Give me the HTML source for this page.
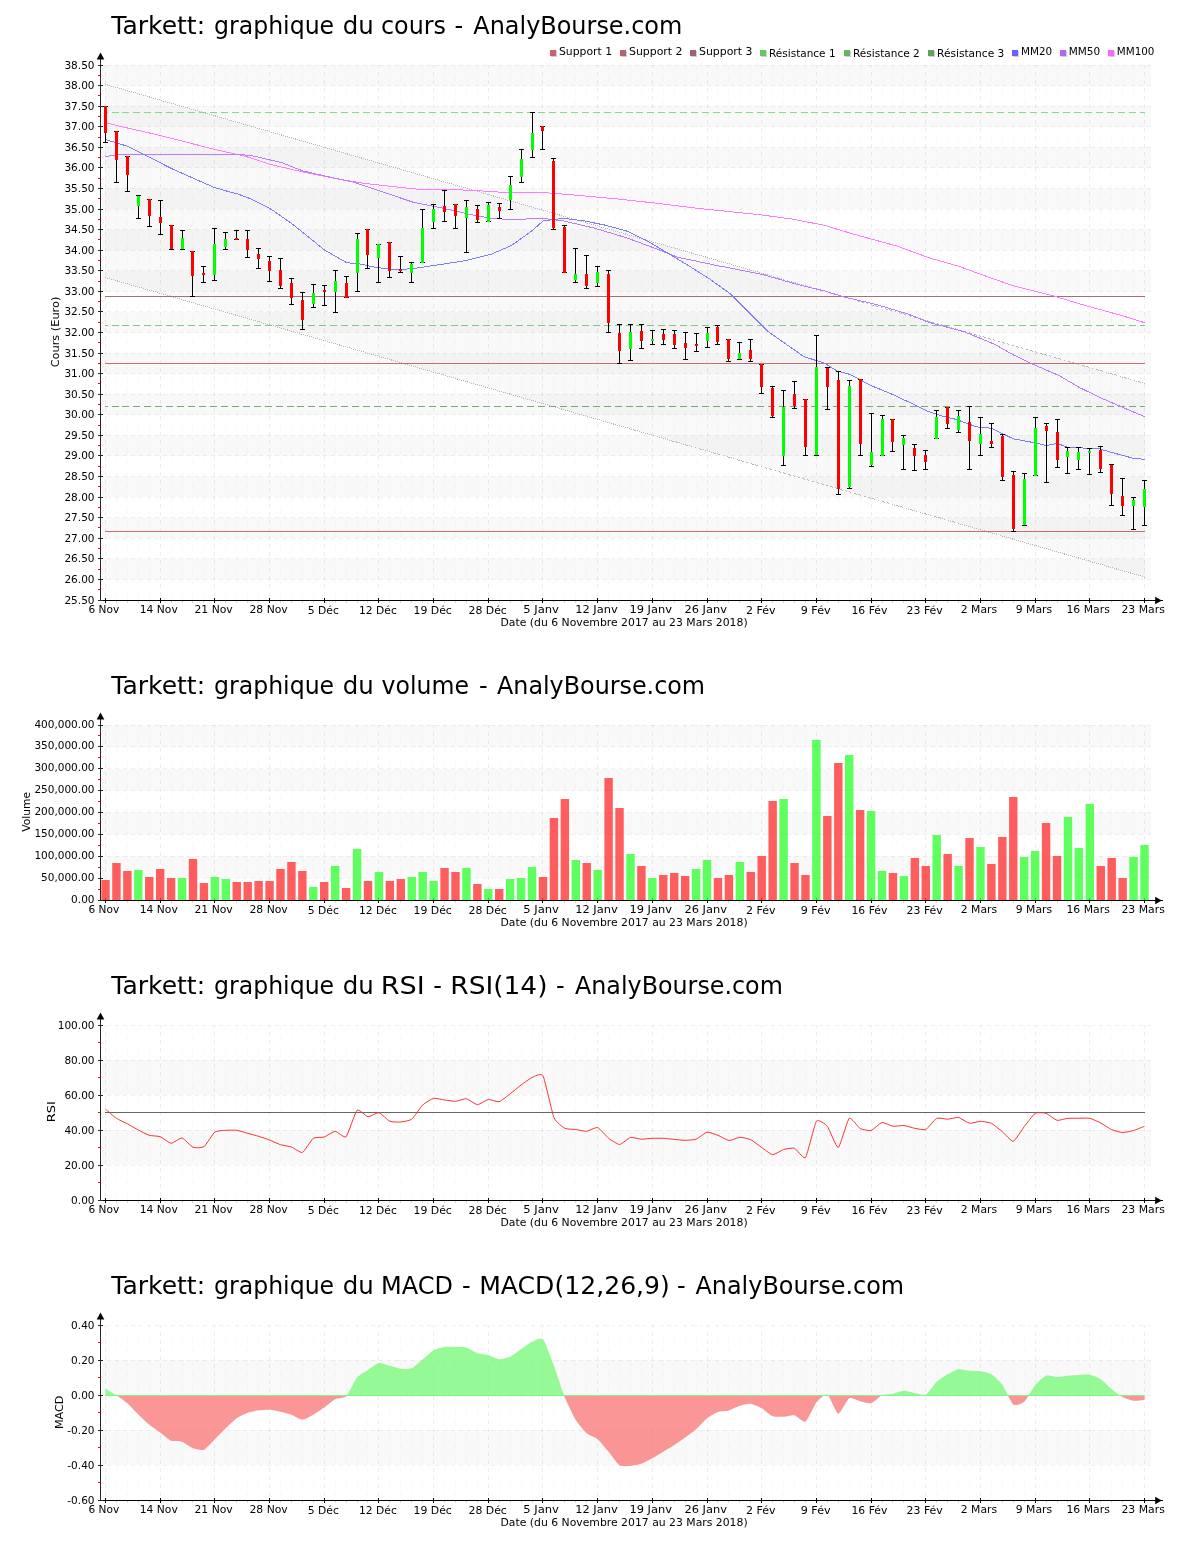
<!DOCTYPE html>
<html lang="fr"><head><meta charset="utf-8"><title>Tarkett - AnalyBourse.com</title>
<style>html,body{margin:0;padding:0;background:#fff}svg{display:block}text{white-space:pre}</style>
</head><body>
<svg width="1200" height="1550" viewBox="0 0 1200 1550" role="img" aria-label="Tarkett - graphiques AnalyBourse.com">
<rect width="1200" height="1550" fill="#fff"/>
<rect x="102" y="558.85" width="1049" height="20.58" fill="#f9f9f9"/>
<rect x="102" y="517.69" width="1049" height="20.58" fill="#f9f9f9"/>
<rect x="102" y="476.54" width="1049" height="20.58" fill="#f9f9f9"/>
<rect x="102" y="435.38" width="1049" height="20.58" fill="#f9f9f9"/>
<rect x="102" y="394.23" width="1049" height="20.58" fill="#f9f9f9"/>
<rect x="102" y="353.08" width="1049" height="20.58" fill="#f9f9f9"/>
<rect x="102" y="311.92" width="1049" height="20.58" fill="#f9f9f9"/>
<rect x="102" y="270.77" width="1049" height="20.58" fill="#f9f9f9"/>
<rect x="102" y="229.62" width="1049" height="20.58" fill="#f9f9f9"/>
<rect x="102" y="188.46" width="1049" height="20.58" fill="#f9f9f9"/>
<rect x="102" y="147.31" width="1049" height="20.58" fill="#f9f9f9"/>
<rect x="102" y="106.15" width="1049" height="20.58" fill="#f9f9f9"/>
<rect x="102" y="65.00" width="1049" height="20.58" fill="#f9f9f9"/>
<polygon points="105,84.2 1145,383.5 1145,577.2 105,277.4" fill="#000" fill-opacity="0.022"/>
<g stroke="#000" stroke-opacity="0.022" stroke-width="1" stroke-dasharray="6 6" shape-rendering="crispEdges">
<line x1="116.5" y1="65" x2="116.5" y2="600" stroke-dashoffset="1"/>
<line x1="127.5" y1="65" x2="127.5" y2="600" stroke-dashoffset="1"/>
<line x1="138.5" y1="65" x2="138.5" y2="600" stroke-dashoffset="1"/>
<line x1="149.5" y1="65" x2="149.5" y2="600" stroke-dashoffset="1"/>
<line x1="171.5" y1="65" x2="171.5" y2="600" stroke-dashoffset="1"/>
<line x1="182.5" y1="65" x2="182.5" y2="600" stroke-dashoffset="1"/>
<line x1="192.5" y1="65" x2="192.5" y2="600" stroke-dashoffset="1"/>
<line x1="203.5" y1="65" x2="203.5" y2="600" stroke-dashoffset="1"/>
<line x1="225.5" y1="65" x2="225.5" y2="600" stroke-dashoffset="1"/>
<line x1="236.5" y1="65" x2="236.5" y2="600" stroke-dashoffset="1"/>
<line x1="247.5" y1="65" x2="247.5" y2="600" stroke-dashoffset="1"/>
<line x1="258.5" y1="65" x2="258.5" y2="600" stroke-dashoffset="1"/>
<line x1="280.5" y1="65" x2="280.5" y2="600" stroke-dashoffset="1"/>
<line x1="291.5" y1="65" x2="291.5" y2="600" stroke-dashoffset="1"/>
<line x1="302.5" y1="65" x2="302.5" y2="600" stroke-dashoffset="1"/>
<line x1="313.5" y1="65" x2="313.5" y2="600" stroke-dashoffset="1"/>
<line x1="335.5" y1="65" x2="335.5" y2="600" stroke-dashoffset="1"/>
<line x1="346.5" y1="65" x2="346.5" y2="600" stroke-dashoffset="1"/>
<line x1="357.5" y1="65" x2="357.5" y2="600" stroke-dashoffset="1"/>
<line x1="367.5" y1="65" x2="367.5" y2="600" stroke-dashoffset="1"/>
<line x1="389.5" y1="65" x2="389.5" y2="600" stroke-dashoffset="1"/>
<line x1="400.5" y1="65" x2="400.5" y2="600" stroke-dashoffset="1"/>
<line x1="411.5" y1="65" x2="411.5" y2="600" stroke-dashoffset="1"/>
<line x1="422.5" y1="65" x2="422.5" y2="600" stroke-dashoffset="1"/>
<line x1="444.5" y1="65" x2="444.5" y2="600" stroke-dashoffset="1"/>
<line x1="455.5" y1="65" x2="455.5" y2="600" stroke-dashoffset="1"/>
<line x1="466.5" y1="65" x2="466.5" y2="600" stroke-dashoffset="1"/>
<line x1="477.5" y1="65" x2="477.5" y2="600" stroke-dashoffset="1"/>
<line x1="499.5" y1="65" x2="499.5" y2="600" stroke-dashoffset="1"/>
<line x1="510.5" y1="65" x2="510.5" y2="600" stroke-dashoffset="1"/>
<line x1="521.5" y1="65" x2="521.5" y2="600" stroke-dashoffset="1"/>
<line x1="532.5" y1="65" x2="532.5" y2="600" stroke-dashoffset="1"/>
<line x1="553.5" y1="65" x2="553.5" y2="600" stroke-dashoffset="1"/>
<line x1="564.5" y1="65" x2="564.5" y2="600" stroke-dashoffset="1"/>
<line x1="575.5" y1="65" x2="575.5" y2="600" stroke-dashoffset="1"/>
<line x1="586.5" y1="65" x2="586.5" y2="600" stroke-dashoffset="1"/>
<line x1="608.5" y1="65" x2="608.5" y2="600" stroke-dashoffset="1"/>
<line x1="619.5" y1="65" x2="619.5" y2="600" stroke-dashoffset="1"/>
<line x1="630.5" y1="65" x2="630.5" y2="600" stroke-dashoffset="1"/>
<line x1="641.5" y1="65" x2="641.5" y2="600" stroke-dashoffset="1"/>
<line x1="663.5" y1="65" x2="663.5" y2="600" stroke-dashoffset="1"/>
<line x1="674.5" y1="65" x2="674.5" y2="600" stroke-dashoffset="1"/>
<line x1="685.5" y1="65" x2="685.5" y2="600" stroke-dashoffset="1"/>
<line x1="696.5" y1="65" x2="696.5" y2="600" stroke-dashoffset="1"/>
<line x1="717.5" y1="65" x2="717.5" y2="600" stroke-dashoffset="1"/>
<line x1="728.5" y1="65" x2="728.5" y2="600" stroke-dashoffset="1"/>
<line x1="739.5" y1="65" x2="739.5" y2="600" stroke-dashoffset="1"/>
<line x1="750.5" y1="65" x2="750.5" y2="600" stroke-dashoffset="1"/>
<line x1="772.5" y1="65" x2="772.5" y2="600" stroke-dashoffset="1"/>
<line x1="783.5" y1="65" x2="783.5" y2="600" stroke-dashoffset="1"/>
<line x1="794.5" y1="65" x2="794.5" y2="600" stroke-dashoffset="1"/>
<line x1="805.5" y1="65" x2="805.5" y2="600" stroke-dashoffset="1"/>
<line x1="827.5" y1="65" x2="827.5" y2="600" stroke-dashoffset="1"/>
<line x1="838.5" y1="65" x2="838.5" y2="600" stroke-dashoffset="1"/>
<line x1="849.5" y1="65" x2="849.5" y2="600" stroke-dashoffset="1"/>
<line x1="860.5" y1="65" x2="860.5" y2="600" stroke-dashoffset="1"/>
<line x1="882.5" y1="65" x2="882.5" y2="600" stroke-dashoffset="1"/>
<line x1="892.5" y1="65" x2="892.5" y2="600" stroke-dashoffset="1"/>
<line x1="903.5" y1="65" x2="903.5" y2="600" stroke-dashoffset="1"/>
<line x1="914.5" y1="65" x2="914.5" y2="600" stroke-dashoffset="1"/>
<line x1="936.5" y1="65" x2="936.5" y2="600" stroke-dashoffset="1"/>
<line x1="947.5" y1="65" x2="947.5" y2="600" stroke-dashoffset="1"/>
<line x1="958.5" y1="65" x2="958.5" y2="600" stroke-dashoffset="1"/>
<line x1="969.5" y1="65" x2="969.5" y2="600" stroke-dashoffset="1"/>
<line x1="991.5" y1="65" x2="991.5" y2="600" stroke-dashoffset="1"/>
<line x1="1002.5" y1="65" x2="1002.5" y2="600" stroke-dashoffset="1"/>
<line x1="1013.5" y1="65" x2="1013.5" y2="600" stroke-dashoffset="1"/>
<line x1="1024.5" y1="65" x2="1024.5" y2="600" stroke-dashoffset="1"/>
<line x1="1046.5" y1="65" x2="1046.5" y2="600" stroke-dashoffset="1"/>
<line x1="1057.5" y1="65" x2="1057.5" y2="600" stroke-dashoffset="1"/>
<line x1="1067.5" y1="65" x2="1067.5" y2="600" stroke-dashoffset="1"/>
<line x1="1078.5" y1="65" x2="1078.5" y2="600" stroke-dashoffset="1"/>
<line x1="1100.5" y1="65" x2="1100.5" y2="600" stroke-dashoffset="1"/>
<line x1="1111.5" y1="65" x2="1111.5" y2="600" stroke-dashoffset="1"/>
<line x1="1122.5" y1="65" x2="1122.5" y2="600" stroke-dashoffset="1"/>
<line x1="1133.5" y1="65" x2="1133.5" y2="600" stroke-dashoffset="1"/>
</g>
<g stroke="#000" stroke-opacity="0.066" stroke-width="1" stroke-dasharray="4 4" shape-rendering="crispEdges">
<line x1="105.5" y1="65" x2="105.5" y2="600" stroke-dashoffset="1"/>
<line x1="160.5" y1="65" x2="160.5" y2="600" stroke-dashoffset="1"/>
<line x1="214.5" y1="65" x2="214.5" y2="600" stroke-dashoffset="1"/>
<line x1="269.5" y1="65" x2="269.5" y2="600" stroke-dashoffset="1"/>
<line x1="324.5" y1="65" x2="324.5" y2="600" stroke-dashoffset="1"/>
<line x1="378.5" y1="65" x2="378.5" y2="600" stroke-dashoffset="1"/>
<line x1="433.5" y1="65" x2="433.5" y2="600" stroke-dashoffset="1"/>
<line x1="488.5" y1="65" x2="488.5" y2="600" stroke-dashoffset="1"/>
<line x1="542.5" y1="65" x2="542.5" y2="600" stroke-dashoffset="1"/>
<line x1="597.5" y1="65" x2="597.5" y2="600" stroke-dashoffset="1"/>
<line x1="652.5" y1="65" x2="652.5" y2="600" stroke-dashoffset="1"/>
<line x1="707.5" y1="65" x2="707.5" y2="600" stroke-dashoffset="1"/>
<line x1="761.5" y1="65" x2="761.5" y2="600" stroke-dashoffset="1"/>
<line x1="816.5" y1="65" x2="816.5" y2="600" stroke-dashoffset="1"/>
<line x1="871.5" y1="65" x2="871.5" y2="600" stroke-dashoffset="1"/>
<line x1="925.5" y1="65" x2="925.5" y2="600" stroke-dashoffset="1"/>
<line x1="980.5" y1="65" x2="980.5" y2="600" stroke-dashoffset="1"/>
<line x1="1035.5" y1="65" x2="1035.5" y2="600" stroke-dashoffset="1"/>
<line x1="1089.5" y1="65" x2="1089.5" y2="600" stroke-dashoffset="1"/>
<line x1="1144.5" y1="65" x2="1144.5" y2="600" stroke-dashoffset="1"/>
</g>
<g stroke="#000" stroke-opacity="0.06" stroke-width="1" stroke-dasharray="4 4" shape-rendering="crispEdges">
<line x1="107" y1="579.5" x2="1151" y2="579.5"/>
<line x1="107" y1="558.5" x2="1151" y2="558.5"/>
<line x1="107" y1="538.5" x2="1151" y2="538.5"/>
<line x1="107" y1="517.5" x2="1151" y2="517.5"/>
<line x1="107" y1="497.5" x2="1151" y2="497.5"/>
<line x1="107" y1="476.5" x2="1151" y2="476.5"/>
<line x1="107" y1="455.5" x2="1151" y2="455.5"/>
<line x1="107" y1="435.5" x2="1151" y2="435.5"/>
<line x1="107" y1="414.5" x2="1151" y2="414.5"/>
<line x1="107" y1="394.5" x2="1151" y2="394.5"/>
<line x1="107" y1="373.5" x2="1151" y2="373.5"/>
<line x1="107" y1="353.5" x2="1151" y2="353.5"/>
<line x1="107" y1="332.5" x2="1151" y2="332.5"/>
<line x1="107" y1="311.5" x2="1151" y2="311.5"/>
<line x1="107" y1="291.5" x2="1151" y2="291.5"/>
<line x1="107" y1="270.5" x2="1151" y2="270.5"/>
<line x1="107" y1="250.5" x2="1151" y2="250.5"/>
<line x1="107" y1="229.5" x2="1151" y2="229.5"/>
<line x1="107" y1="209.5" x2="1151" y2="209.5"/>
<line x1="107" y1="188.5" x2="1151" y2="188.5"/>
<line x1="107" y1="167.5" x2="1151" y2="167.5"/>
<line x1="107" y1="147.5" x2="1151" y2="147.5"/>
<line x1="107" y1="126.5" x2="1151" y2="126.5"/>
<line x1="107" y1="106.5" x2="1151" y2="106.5"/>
<line x1="107" y1="85.5" x2="1151" y2="85.5"/>
<line x1="107" y1="65.5" x2="1151" y2="65.5"/>
</g>
<line x1="105" y1="84.2" x2="1145" y2="383.5" stroke="#b6b6b6" stroke-width="1" stroke-dasharray="1.04 1.04" shape-rendering="crispEdges"/>
<line x1="105" y1="277.4" x2="1145" y2="577.2" stroke="#b6b6b6" stroke-width="1" stroke-dasharray="1.04 1.04" shape-rendering="crispEdges"/>
<line x1="105" y1="531.5" x2="1145" y2="531.5" stroke="#c86e6e" stroke-width="1" shape-rendering="crispEdges"/>
<line x1="105" y1="363.5" x2="1145" y2="363.5" stroke="#c86e6e" stroke-width="1" shape-rendering="crispEdges"/>
<line x1="105" y1="296.5" x2="1145" y2="296.5" stroke="#a87070" stroke-width="1" shape-rendering="crispEdges"/>
<line x1="105" y1="112.5" x2="1145" y2="112.5" stroke="#82dc82" stroke-width="1" shape-rendering="crispEdges" stroke-dasharray="7 3.936" stroke-dashoffset="4.4"/>
<line x1="105" y1="325.5" x2="1145" y2="325.5" stroke="#82c882" stroke-width="1" shape-rendering="crispEdges" stroke-dasharray="7 3.936" stroke-dashoffset="4.4"/>
<line x1="105" y1="406.5" x2="1145" y2="406.5" stroke="#78a878" stroke-width="1" shape-rendering="crispEdges" stroke-dasharray="7 3.936" stroke-dashoffset="4.4"/>
<polyline points="105.0,122.6 127.5,128.0 160.0,135.4 215.0,149.5 245.0,156.2 271.7,164.8 303.0,172.0 334.0,178.3 365.4,183.5 396.7,187.0 417.5,189.2 438.0,189.5 459.0,189.8 480.0,190.8 511.7,192.9 543.0,192.5 574.0,195.0 615.8,198.8 657.5,203.3 699.0,208.5 720.0,210.6 762.0,215.0 793.3,219.2 824.6,225.4 855.8,234.8 897.5,246.2 928.8,257.7 960.0,266.7 976.7,272.9 1013.3,285.8 1050.0,294.9 1086.7,305.9 1123.3,316.0 1145.0,322.8" fill="none" stroke="#ff7cff" stroke-width="1" shape-rendering="crispEdges"/>
<polyline points="105.0,156.5 122.5,154.4 180.0,154.6 215.0,154.4 245.0,155.0 250.8,155.4 282.0,162.7 303.0,171.0 334.0,178.0 355.0,182.5 376.0,189.8 396.7,196.7 413.3,202.3 438.3,207.3 459.0,211.7 470.0,214.4 490.8,218.3 511.7,219.6 543.0,218.3 563.8,221.0 595.0,228.3 626.2,237.7 657.5,249.2 678.3,257.5 699.0,261.7 720.0,266.2 730.8,268.1 762.0,274.4 793.3,283.3 824.6,291.0 845.4,297.3 876.7,304.6 908.0,314.0 928.8,322.3 960.0,330.6 963.8,331.6 995.0,344.4 1013.3,354.9 1031.7,363.7 1059.2,375.6 1079.3,387.5 1101.3,398.1 1123.3,407.7 1145.0,416.8" fill="none" stroke="#ba7cff" stroke-width="1" shape-rendering="crispEdges"/>
<polyline points="105.0,139.4 127.5,146.2 172.5,169.0 213.8,187.3 227.5,191.3 237.5,193.9 250.0,198.6 260.0,203.4 271.7,209.6 292.5,224.2 313.3,240.8 323.8,249.6 346.7,262.7 359.2,263.8 375.8,267.5 396.7,269.6 407.0,269.0 417.5,268.0 438.3,264.8 459.2,261.7 470.0,259.6 490.8,254.4 511.7,245.4 532.5,230.4 543.0,221.0 553.3,219.6 563.8,218.3 584.6,221.0 605.4,225.2 628.3,231.5 647.0,240.8 668.0,253.3 688.8,265.8 710.0,279.2 730.8,294.2 751.7,315.0 768.3,331.7 783.0,342.0 803.8,356.5 824.6,363.3 837.5,371.2 850.0,374.4 871.2,385.6 892.5,394.4 915.0,405.0 927.5,411.2 942.5,416.2 956.2,419.4 976.7,426.9 991.3,428.2 1013.3,438.8 1035.3,442.9 1046.3,445.6 1057.3,443.4 1068.3,447.6 1097.7,448.4 1112.0,452.5 1132.5,458.1 1145.0,459.4" fill="none" stroke="#7c7cff" stroke-width="1" shape-rendering="crispEdges"/>
<g shape-rendering="crispEdges">
<rect x="105" y="106" width="1" height="37" fill="#000"/>
<rect x="103" y="106" width="5" height="1" fill="#000"/>
<rect x="103" y="142" width="5" height="1" fill="#000"/>
<rect x="104" y="106" width="3" height="27" fill="#ff0000"/>
<rect x="116" y="131" width="1" height="52" fill="#000"/>
<rect x="114" y="131" width="5" height="1" fill="#000"/>
<rect x="114" y="182" width="5" height="1" fill="#000"/>
<rect x="115" y="131" width="3" height="29" fill="#ff0000"/>
<rect x="127" y="156" width="1" height="36" fill="#000"/>
<rect x="125" y="156" width="5" height="1" fill="#000"/>
<rect x="125" y="191" width="5" height="1" fill="#000"/>
<rect x="126" y="156" width="3" height="19" fill="#ff0000"/>
<rect x="138" y="195" width="1" height="24" fill="#000"/>
<rect x="136" y="195" width="5" height="1" fill="#000"/>
<rect x="136" y="218" width="5" height="1" fill="#000"/>
<rect x="137" y="196" width="3" height="10" fill="#00ff00"/>
<rect x="149" y="199" width="1" height="28" fill="#000"/>
<rect x="147" y="199" width="5" height="1" fill="#000"/>
<rect x="147" y="226" width="5" height="1" fill="#000"/>
<rect x="148" y="199" width="3" height="17" fill="#ff0000"/>
<rect x="160" y="200" width="1" height="35" fill="#000"/>
<rect x="158" y="200" width="5" height="1" fill="#000"/>
<rect x="158" y="234" width="5" height="1" fill="#000"/>
<rect x="159" y="217" width="3" height="6" fill="#ff0000"/>
<rect x="171" y="225" width="1" height="25" fill="#000"/>
<rect x="169" y="225" width="5" height="1" fill="#000"/>
<rect x="169" y="249" width="5" height="1" fill="#000"/>
<rect x="170" y="225" width="3" height="24" fill="#ff0000"/>
<rect x="182" y="230" width="1" height="20" fill="#000"/>
<rect x="180" y="230" width="5" height="1" fill="#000"/>
<rect x="180" y="249" width="5" height="1" fill="#000"/>
<rect x="181" y="238" width="3" height="11" fill="#00ff00"/>
<rect x="192" y="251" width="1" height="46" fill="#000"/>
<rect x="190" y="251" width="5" height="1" fill="#000"/>
<rect x="190" y="296" width="5" height="1" fill="#000"/>
<rect x="191" y="251" width="3" height="25" fill="#ff0000"/>
<rect x="203" y="266" width="1" height="17" fill="#000"/>
<rect x="201" y="266" width="5" height="1" fill="#000"/>
<rect x="201" y="282" width="5" height="1" fill="#000"/>
<rect x="202" y="273" width="3" height="2" fill="#ff0000"/>
<rect x="214" y="228" width="1" height="53" fill="#000"/>
<rect x="212" y="228" width="5" height="1" fill="#000"/>
<rect x="212" y="280" width="5" height="1" fill="#000"/>
<rect x="213" y="244" width="3" height="31" fill="#00ff00"/>
<rect x="225" y="232" width="1" height="18" fill="#000"/>
<rect x="223" y="232" width="5" height="1" fill="#000"/>
<rect x="223" y="249" width="5" height="1" fill="#000"/>
<rect x="224" y="239" width="3" height="8" fill="#00ff00"/>
<rect x="236" y="230" width="1" height="10" fill="#000"/>
<rect x="234" y="230" width="5" height="1" fill="#000"/>
<rect x="234" y="239" width="5" height="1" fill="#000"/>
<rect x="235" y="238" width="3" height="2" fill="#ff0000"/>
<rect x="247" y="230" width="1" height="28" fill="#000"/>
<rect x="245" y="230" width="5" height="1" fill="#000"/>
<rect x="245" y="257" width="5" height="1" fill="#000"/>
<rect x="246" y="239" width="3" height="11" fill="#ff0000"/>
<rect x="258" y="248" width="1" height="21" fill="#000"/>
<rect x="256" y="248" width="5" height="1" fill="#000"/>
<rect x="256" y="268" width="5" height="1" fill="#000"/>
<rect x="257" y="254" width="3" height="5" fill="#ff0000"/>
<rect x="269" y="256" width="1" height="26" fill="#000"/>
<rect x="267" y="256" width="5" height="1" fill="#000"/>
<rect x="267" y="281" width="5" height="1" fill="#000"/>
<rect x="268" y="261" width="3" height="10" fill="#ff0000"/>
<rect x="280" y="258" width="1" height="31" fill="#000"/>
<rect x="278" y="258" width="5" height="1" fill="#000"/>
<rect x="278" y="288" width="5" height="1" fill="#000"/>
<rect x="279" y="270" width="3" height="16" fill="#ff0000"/>
<rect x="291" y="278" width="1" height="27" fill="#000"/>
<rect x="289" y="278" width="5" height="1" fill="#000"/>
<rect x="289" y="304" width="5" height="1" fill="#000"/>
<rect x="290" y="283" width="3" height="15" fill="#ff0000"/>
<rect x="302" y="292" width="1" height="38" fill="#000"/>
<rect x="300" y="292" width="5" height="1" fill="#000"/>
<rect x="300" y="329" width="5" height="1" fill="#000"/>
<rect x="301" y="300" width="3" height="20" fill="#ff0000"/>
<rect x="313" y="284" width="1" height="24" fill="#000"/>
<rect x="311" y="284" width="5" height="1" fill="#000"/>
<rect x="311" y="307" width="5" height="1" fill="#000"/>
<rect x="312" y="293" width="3" height="11" fill="#00ff00"/>
<rect x="324" y="285" width="1" height="21" fill="#000"/>
<rect x="322" y="285" width="5" height="1" fill="#000"/>
<rect x="322" y="305" width="5" height="1" fill="#000"/>
<rect x="323" y="290" width="3" height="2" fill="#ff0000"/>
<rect x="335" y="270" width="1" height="43" fill="#000"/>
<rect x="333" y="270" width="5" height="1" fill="#000"/>
<rect x="333" y="312" width="5" height="1" fill="#000"/>
<rect x="334" y="281" width="3" height="11" fill="#00ff00"/>
<rect x="346" y="276" width="1" height="22" fill="#000"/>
<rect x="344" y="276" width="5" height="1" fill="#000"/>
<rect x="344" y="297" width="5" height="1" fill="#000"/>
<rect x="345" y="283" width="3" height="15" fill="#ff0000"/>
<rect x="357" y="233" width="1" height="59" fill="#000"/>
<rect x="355" y="233" width="5" height="1" fill="#000"/>
<rect x="355" y="291" width="5" height="1" fill="#000"/>
<rect x="356" y="239" width="3" height="34" fill="#00ff00"/>
<rect x="367" y="229" width="1" height="40" fill="#000"/>
<rect x="365" y="229" width="5" height="1" fill="#000"/>
<rect x="365" y="268" width="5" height="1" fill="#000"/>
<rect x="366" y="229" width="3" height="26" fill="#ff0000"/>
<rect x="378" y="244" width="1" height="39" fill="#000"/>
<rect x="376" y="244" width="5" height="1" fill="#000"/>
<rect x="376" y="282" width="5" height="1" fill="#000"/>
<rect x="377" y="244" width="3" height="14" fill="#00ff00"/>
<rect x="389" y="242" width="1" height="36" fill="#000"/>
<rect x="387" y="242" width="5" height="1" fill="#000"/>
<rect x="387" y="277" width="5" height="1" fill="#000"/>
<rect x="388" y="242" width="3" height="29" fill="#ff0000"/>
<rect x="400" y="256" width="1" height="17" fill="#000"/>
<rect x="398" y="256" width="5" height="1" fill="#000"/>
<rect x="398" y="272" width="5" height="1" fill="#000"/>
<rect x="399" y="269" width="3" height="2" fill="#ff0000"/>
<rect x="411" y="262" width="1" height="21" fill="#000"/>
<rect x="409" y="262" width="5" height="1" fill="#000"/>
<rect x="409" y="282" width="5" height="1" fill="#000"/>
<rect x="410" y="264" width="3" height="9" fill="#00ff00"/>
<rect x="422" y="209" width="1" height="54" fill="#000"/>
<rect x="420" y="209" width="5" height="1" fill="#000"/>
<rect x="420" y="262" width="5" height="1" fill="#000"/>
<rect x="421" y="228" width="3" height="35" fill="#00ff00"/>
<rect x="433" y="204" width="1" height="25" fill="#000"/>
<rect x="431" y="204" width="5" height="1" fill="#000"/>
<rect x="431" y="228" width="5" height="1" fill="#000"/>
<rect x="432" y="209" width="3" height="13" fill="#00ff00"/>
<rect x="444" y="190" width="1" height="32" fill="#000"/>
<rect x="442" y="190" width="5" height="1" fill="#000"/>
<rect x="442" y="221" width="5" height="1" fill="#000"/>
<rect x="443" y="206" width="3" height="6" fill="#ff0000"/>
<rect x="455" y="204" width="1" height="25" fill="#000"/>
<rect x="453" y="204" width="5" height="1" fill="#000"/>
<rect x="453" y="228" width="5" height="1" fill="#000"/>
<rect x="454" y="204" width="3" height="12" fill="#ff0000"/>
<rect x="466" y="200" width="1" height="53" fill="#000"/>
<rect x="464" y="200" width="5" height="1" fill="#000"/>
<rect x="464" y="252" width="5" height="1" fill="#000"/>
<rect x="465" y="207" width="3" height="11" fill="#00ff00"/>
<rect x="477" y="205" width="1" height="18" fill="#000"/>
<rect x="475" y="205" width="5" height="1" fill="#000"/>
<rect x="475" y="222" width="5" height="1" fill="#000"/>
<rect x="476" y="209" width="3" height="11" fill="#ff0000"/>
<rect x="488" y="202" width="1" height="20" fill="#000"/>
<rect x="486" y="202" width="5" height="1" fill="#000"/>
<rect x="486" y="221" width="5" height="1" fill="#000"/>
<rect x="487" y="205" width="3" height="17" fill="#00ff00"/>
<rect x="499" y="203" width="1" height="16" fill="#000"/>
<rect x="497" y="203" width="5" height="1" fill="#000"/>
<rect x="497" y="218" width="5" height="1" fill="#000"/>
<rect x="498" y="207" width="3" height="4" fill="#ff0000"/>
<rect x="510" y="176" width="1" height="34" fill="#000"/>
<rect x="508" y="176" width="5" height="1" fill="#000"/>
<rect x="508" y="209" width="5" height="1" fill="#000"/>
<rect x="509" y="185" width="3" height="15" fill="#00ff00"/>
<rect x="521" y="149" width="1" height="34" fill="#000"/>
<rect x="519" y="149" width="5" height="1" fill="#000"/>
<rect x="519" y="182" width="5" height="1" fill="#000"/>
<rect x="520" y="159" width="3" height="18" fill="#00ff00"/>
<rect x="532" y="112" width="1" height="46" fill="#000"/>
<rect x="530" y="112" width="5" height="1" fill="#000"/>
<rect x="530" y="157" width="5" height="1" fill="#000"/>
<rect x="531" y="133" width="3" height="17" fill="#00ff00"/>
<rect x="542" y="126" width="1" height="24" fill="#000"/>
<rect x="540" y="126" width="5" height="1" fill="#000"/>
<rect x="540" y="149" width="5" height="1" fill="#000"/>
<rect x="541" y="126" width="3" height="5" fill="#ff0000"/>
<rect x="553" y="158" width="1" height="72" fill="#000"/>
<rect x="551" y="158" width="5" height="1" fill="#000"/>
<rect x="551" y="229" width="5" height="1" fill="#000"/>
<rect x="552" y="161" width="3" height="67" fill="#ff0000"/>
<rect x="564" y="225" width="1" height="48" fill="#000"/>
<rect x="562" y="225" width="5" height="1" fill="#000"/>
<rect x="562" y="272" width="5" height="1" fill="#000"/>
<rect x="563" y="227" width="3" height="46" fill="#ff0000"/>
<rect x="575" y="248" width="1" height="35" fill="#000"/>
<rect x="573" y="248" width="5" height="1" fill="#000"/>
<rect x="573" y="282" width="5" height="1" fill="#000"/>
<rect x="574" y="274" width="3" height="6" fill="#00ff00"/>
<rect x="586" y="255" width="1" height="34" fill="#000"/>
<rect x="584" y="255" width="5" height="1" fill="#000"/>
<rect x="584" y="288" width="5" height="1" fill="#000"/>
<rect x="585" y="274" width="3" height="12" fill="#ff0000"/>
<rect x="597" y="266" width="1" height="21" fill="#000"/>
<rect x="595" y="266" width="5" height="1" fill="#000"/>
<rect x="595" y="286" width="5" height="1" fill="#000"/>
<rect x="596" y="272" width="3" height="11" fill="#00ff00"/>
<rect x="608" y="270" width="1" height="63" fill="#000"/>
<rect x="606" y="270" width="5" height="1" fill="#000"/>
<rect x="606" y="332" width="5" height="1" fill="#000"/>
<rect x="607" y="274" width="3" height="49" fill="#ff0000"/>
<rect x="619" y="324" width="1" height="40" fill="#000"/>
<rect x="617" y="324" width="5" height="1" fill="#000"/>
<rect x="617" y="363" width="5" height="1" fill="#000"/>
<rect x="618" y="333" width="3" height="18" fill="#ff0000"/>
<rect x="630" y="324" width="1" height="37" fill="#000"/>
<rect x="628" y="324" width="5" height="1" fill="#000"/>
<rect x="628" y="360" width="5" height="1" fill="#000"/>
<rect x="629" y="332" width="3" height="17" fill="#00ff00"/>
<rect x="641" y="324" width="1" height="25" fill="#000"/>
<rect x="639" y="324" width="5" height="1" fill="#000"/>
<rect x="639" y="348" width="5" height="1" fill="#000"/>
<rect x="640" y="331" width="3" height="10" fill="#ff0000"/>
<rect x="652" y="330" width="1" height="15" fill="#000"/>
<rect x="650" y="330" width="5" height="1" fill="#000"/>
<rect x="650" y="344" width="5" height="1" fill="#000"/>
<rect x="651" y="339" width="3" height="2" fill="#00ff00"/>
<rect x="663" y="329" width="1" height="16" fill="#000"/>
<rect x="661" y="329" width="5" height="1" fill="#000"/>
<rect x="661" y="344" width="5" height="1" fill="#000"/>
<rect x="662" y="334" width="3" height="6" fill="#ff0000"/>
<rect x="674" y="330" width="1" height="19" fill="#000"/>
<rect x="672" y="330" width="5" height="1" fill="#000"/>
<rect x="672" y="348" width="5" height="1" fill="#000"/>
<rect x="673" y="334" width="3" height="11" fill="#ff0000"/>
<rect x="685" y="332" width="1" height="28" fill="#000"/>
<rect x="683" y="332" width="5" height="1" fill="#000"/>
<rect x="683" y="359" width="5" height="1" fill="#000"/>
<rect x="684" y="343" width="3" height="5" fill="#ff0000"/>
<rect x="696" y="333" width="1" height="19" fill="#000"/>
<rect x="694" y="333" width="5" height="1" fill="#000"/>
<rect x="694" y="351" width="5" height="1" fill="#000"/>
<rect x="695" y="344" width="3" height="2" fill="#ff0000"/>
<rect x="707" y="327" width="1" height="21" fill="#000"/>
<rect x="705" y="327" width="5" height="1" fill="#000"/>
<rect x="705" y="347" width="5" height="1" fill="#000"/>
<rect x="706" y="333" width="3" height="8" fill="#00ff00"/>
<rect x="717" y="325" width="1" height="20" fill="#000"/>
<rect x="715" y="325" width="5" height="1" fill="#000"/>
<rect x="715" y="344" width="5" height="1" fill="#000"/>
<rect x="716" y="327" width="3" height="15" fill="#ff0000"/>
<rect x="728" y="339" width="1" height="23" fill="#000"/>
<rect x="726" y="339" width="5" height="1" fill="#000"/>
<rect x="726" y="361" width="5" height="1" fill="#000"/>
<rect x="727" y="339" width="3" height="20" fill="#ff0000"/>
<rect x="739" y="342" width="1" height="18" fill="#000"/>
<rect x="737" y="342" width="5" height="1" fill="#000"/>
<rect x="737" y="359" width="5" height="1" fill="#000"/>
<rect x="738" y="353" width="3" height="6" fill="#00ff00"/>
<rect x="750" y="339" width="1" height="23" fill="#000"/>
<rect x="748" y="339" width="5" height="1" fill="#000"/>
<rect x="748" y="361" width="5" height="1" fill="#000"/>
<rect x="749" y="350" width="3" height="9" fill="#ff0000"/>
<rect x="761" y="364" width="1" height="30" fill="#000"/>
<rect x="759" y="364" width="5" height="1" fill="#000"/>
<rect x="759" y="393" width="5" height="1" fill="#000"/>
<rect x="760" y="364" width="3" height="23" fill="#ff0000"/>
<rect x="772" y="386" width="1" height="32" fill="#000"/>
<rect x="770" y="386" width="5" height="1" fill="#000"/>
<rect x="770" y="417" width="5" height="1" fill="#000"/>
<rect x="771" y="388" width="3" height="28" fill="#ff0000"/>
<rect x="783" y="390" width="1" height="76" fill="#000"/>
<rect x="781" y="390" width="5" height="1" fill="#000"/>
<rect x="781" y="465" width="5" height="1" fill="#000"/>
<rect x="782" y="407" width="3" height="49" fill="#00ff00"/>
<rect x="794" y="381" width="1" height="28" fill="#000"/>
<rect x="792" y="381" width="5" height="1" fill="#000"/>
<rect x="792" y="408" width="5" height="1" fill="#000"/>
<rect x="793" y="394" width="3" height="12" fill="#ff0000"/>
<rect x="805" y="399" width="1" height="57" fill="#000"/>
<rect x="803" y="399" width="5" height="1" fill="#000"/>
<rect x="803" y="455" width="5" height="1" fill="#000"/>
<rect x="804" y="399" width="3" height="48" fill="#ff0000"/>
<rect x="816" y="335" width="1" height="121" fill="#000"/>
<rect x="814" y="335" width="5" height="1" fill="#000"/>
<rect x="814" y="455" width="5" height="1" fill="#000"/>
<rect x="815" y="367" width="3" height="88" fill="#00ff00"/>
<rect x="827" y="367" width="1" height="43" fill="#000"/>
<rect x="825" y="367" width="5" height="1" fill="#000"/>
<rect x="825" y="409" width="5" height="1" fill="#000"/>
<rect x="826" y="368" width="3" height="19" fill="#ff0000"/>
<rect x="838" y="371" width="1" height="124" fill="#000"/>
<rect x="836" y="371" width="5" height="1" fill="#000"/>
<rect x="836" y="494" width="5" height="1" fill="#000"/>
<rect x="837" y="380" width="3" height="109" fill="#ff0000"/>
<rect x="849" y="380" width="1" height="109" fill="#000"/>
<rect x="847" y="380" width="5" height="1" fill="#000"/>
<rect x="847" y="488" width="5" height="1" fill="#000"/>
<rect x="848" y="386" width="3" height="101" fill="#00ff00"/>
<rect x="860" y="379" width="1" height="77" fill="#000"/>
<rect x="858" y="379" width="5" height="1" fill="#000"/>
<rect x="858" y="455" width="5" height="1" fill="#000"/>
<rect x="859" y="379" width="3" height="65" fill="#ff0000"/>
<rect x="871" y="413" width="1" height="54" fill="#000"/>
<rect x="869" y="413" width="5" height="1" fill="#000"/>
<rect x="869" y="466" width="5" height="1" fill="#000"/>
<rect x="870" y="452" width="3" height="13" fill="#00ff00"/>
<rect x="882" y="415" width="1" height="41" fill="#000"/>
<rect x="880" y="415" width="5" height="1" fill="#000"/>
<rect x="880" y="455" width="5" height="1" fill="#000"/>
<rect x="881" y="419" width="3" height="37" fill="#00ff00"/>
<rect x="892" y="419" width="1" height="33" fill="#000"/>
<rect x="890" y="419" width="5" height="1" fill="#000"/>
<rect x="890" y="451" width="5" height="1" fill="#000"/>
<rect x="891" y="419" width="3" height="23" fill="#ff0000"/>
<rect x="903" y="435" width="1" height="35" fill="#000"/>
<rect x="901" y="435" width="5" height="1" fill="#000"/>
<rect x="901" y="469" width="5" height="1" fill="#000"/>
<rect x="902" y="438" width="3" height="7" fill="#00ff00"/>
<rect x="914" y="444" width="1" height="27" fill="#000"/>
<rect x="912" y="444" width="5" height="1" fill="#000"/>
<rect x="912" y="470" width="5" height="1" fill="#000"/>
<rect x="913" y="448" width="3" height="8" fill="#ff0000"/>
<rect x="925" y="450" width="1" height="20" fill="#000"/>
<rect x="923" y="450" width="5" height="1" fill="#000"/>
<rect x="923" y="469" width="5" height="1" fill="#000"/>
<rect x="924" y="455" width="3" height="7" fill="#ff0000"/>
<rect x="936" y="410" width="1" height="29" fill="#000"/>
<rect x="934" y="410" width="5" height="1" fill="#000"/>
<rect x="934" y="438" width="5" height="1" fill="#000"/>
<rect x="935" y="417" width="3" height="22" fill="#00ff00"/>
<rect x="947" y="407" width="1" height="22" fill="#000"/>
<rect x="945" y="407" width="5" height="1" fill="#000"/>
<rect x="945" y="428" width="5" height="1" fill="#000"/>
<rect x="946" y="407" width="3" height="17" fill="#ff0000"/>
<rect x="958" y="410" width="1" height="23" fill="#000"/>
<rect x="956" y="410" width="5" height="1" fill="#000"/>
<rect x="956" y="432" width="5" height="1" fill="#000"/>
<rect x="957" y="416" width="3" height="14" fill="#00ff00"/>
<rect x="969" y="406" width="1" height="64" fill="#000"/>
<rect x="967" y="406" width="5" height="1" fill="#000"/>
<rect x="967" y="469" width="5" height="1" fill="#000"/>
<rect x="968" y="422" width="3" height="19" fill="#ff0000"/>
<rect x="980" y="417" width="1" height="39" fill="#000"/>
<rect x="978" y="417" width="5" height="1" fill="#000"/>
<rect x="978" y="455" width="5" height="1" fill="#000"/>
<rect x="979" y="434" width="3" height="10" fill="#00ff00"/>
<rect x="991" y="423" width="1" height="25" fill="#000"/>
<rect x="989" y="423" width="5" height="1" fill="#000"/>
<rect x="989" y="447" width="5" height="1" fill="#000"/>
<rect x="990" y="441" width="3" height="3" fill="#ff0000"/>
<rect x="1002" y="434" width="1" height="47" fill="#000"/>
<rect x="1000" y="434" width="5" height="1" fill="#000"/>
<rect x="1000" y="480" width="5" height="1" fill="#000"/>
<rect x="1001" y="436" width="3" height="41" fill="#ff0000"/>
<rect x="1013" y="471" width="1" height="61" fill="#000"/>
<rect x="1011" y="471" width="5" height="1" fill="#000"/>
<rect x="1011" y="531" width="5" height="1" fill="#000"/>
<rect x="1012" y="475" width="3" height="54" fill="#ff0000"/>
<rect x="1024" y="473" width="1" height="53" fill="#000"/>
<rect x="1022" y="473" width="5" height="1" fill="#000"/>
<rect x="1022" y="525" width="5" height="1" fill="#000"/>
<rect x="1023" y="479" width="3" height="46" fill="#00ff00"/>
<rect x="1035" y="417" width="1" height="59" fill="#000"/>
<rect x="1033" y="417" width="5" height="1" fill="#000"/>
<rect x="1033" y="475" width="5" height="1" fill="#000"/>
<rect x="1034" y="428" width="3" height="48" fill="#00ff00"/>
<rect x="1046" y="423" width="1" height="60" fill="#000"/>
<rect x="1044" y="423" width="5" height="1" fill="#000"/>
<rect x="1044" y="482" width="5" height="1" fill="#000"/>
<rect x="1045" y="426" width="3" height="5" fill="#ff0000"/>
<rect x="1057" y="419" width="1" height="49" fill="#000"/>
<rect x="1055" y="419" width="5" height="1" fill="#000"/>
<rect x="1055" y="467" width="5" height="1" fill="#000"/>
<rect x="1056" y="432" width="3" height="28" fill="#ff0000"/>
<rect x="1067" y="447" width="1" height="27" fill="#000"/>
<rect x="1065" y="447" width="5" height="1" fill="#000"/>
<rect x="1065" y="473" width="5" height="1" fill="#000"/>
<rect x="1066" y="451" width="3" height="6" fill="#00ff00"/>
<rect x="1078" y="447" width="1" height="23" fill="#000"/>
<rect x="1076" y="447" width="5" height="1" fill="#000"/>
<rect x="1076" y="469" width="5" height="1" fill="#000"/>
<rect x="1077" y="452" width="3" height="8" fill="#00ff00"/>
<rect x="1089" y="448" width="1" height="27" fill="#000"/>
<rect x="1087" y="448" width="5" height="1" fill="#000"/>
<rect x="1087" y="474" width="5" height="1" fill="#000"/>
<rect x="1088" y="451" width="3" height="2" fill="#00ff00"/>
<rect x="1100" y="446" width="1" height="27" fill="#000"/>
<rect x="1098" y="446" width="5" height="1" fill="#000"/>
<rect x="1098" y="472" width="5" height="1" fill="#000"/>
<rect x="1099" y="450" width="3" height="19" fill="#ff0000"/>
<rect x="1111" y="464" width="1" height="42" fill="#000"/>
<rect x="1109" y="464" width="5" height="1" fill="#000"/>
<rect x="1109" y="505" width="5" height="1" fill="#000"/>
<rect x="1110" y="465" width="3" height="29" fill="#ff0000"/>
<rect x="1122" y="478" width="1" height="38" fill="#000"/>
<rect x="1120" y="478" width="5" height="1" fill="#000"/>
<rect x="1120" y="515" width="5" height="1" fill="#000"/>
<rect x="1121" y="496" width="3" height="10" fill="#ff0000"/>
<rect x="1133" y="497" width="1" height="33" fill="#000"/>
<rect x="1131" y="497" width="5" height="1" fill="#000"/>
<rect x="1131" y="529" width="5" height="1" fill="#000"/>
<rect x="1132" y="500" width="3" height="6" fill="#00ff00"/>
<rect x="1144" y="480" width="1" height="46" fill="#000"/>
<rect x="1142" y="480" width="5" height="1" fill="#000"/>
<rect x="1142" y="525" width="5" height="1" fill="#000"/>
<rect x="1143" y="489" width="3" height="18" fill="#00ff00"/>
</g>
<g stroke="#262626" stroke-width="1" shape-rendering="crispEdges">
<line x1="100.5" y1="59" x2="100.5" y2="601"/>
<line x1="100" y1="600.5" x2="1163" y2="600.5" stroke="#000"/>
<line x1="98" y1="600.5" x2="103" y2="600.5"/>
<line x1="98" y1="579.5" x2="103" y2="579.5"/>
<line x1="98" y1="558.5" x2="103" y2="558.5"/>
<line x1="98" y1="538.5" x2="103" y2="538.5"/>
<line x1="98" y1="517.5" x2="103" y2="517.5"/>
<line x1="98" y1="497.5" x2="103" y2="497.5"/>
<line x1="98" y1="476.5" x2="103" y2="476.5"/>
<line x1="98" y1="455.5" x2="103" y2="455.5"/>
<line x1="98" y1="435.5" x2="103" y2="435.5"/>
<line x1="98" y1="414.5" x2="103" y2="414.5"/>
<line x1="98" y1="394.5" x2="103" y2="394.5"/>
<line x1="98" y1="373.5" x2="103" y2="373.5"/>
<line x1="98" y1="353.5" x2="103" y2="353.5"/>
<line x1="98" y1="332.5" x2="103" y2="332.5"/>
<line x1="98" y1="311.5" x2="103" y2="311.5"/>
<line x1="98" y1="291.5" x2="103" y2="291.5"/>
<line x1="98" y1="270.5" x2="103" y2="270.5"/>
<line x1="98" y1="250.5" x2="103" y2="250.5"/>
<line x1="98" y1="229.5" x2="103" y2="229.5"/>
<line x1="98" y1="209.5" x2="103" y2="209.5"/>
<line x1="98" y1="188.5" x2="103" y2="188.5"/>
<line x1="98" y1="167.5" x2="103" y2="167.5"/>
<line x1="98" y1="147.5" x2="103" y2="147.5"/>
<line x1="98" y1="126.5" x2="103" y2="126.5"/>
<line x1="98" y1="106.5" x2="103" y2="106.5"/>
<line x1="98" y1="85.5" x2="103" y2="85.5"/>
<line x1="98" y1="65.5" x2="103" y2="65.5"/>
<line x1="105.5" y1="598" x2="105.5" y2="603" stroke="#000"/>
<line x1="160.5" y1="598" x2="160.5" y2="603" stroke="#000"/>
<line x1="214.5" y1="598" x2="214.5" y2="603" stroke="#000"/>
<line x1="269.5" y1="598" x2="269.5" y2="603" stroke="#000"/>
<line x1="324.5" y1="598" x2="324.5" y2="603" stroke="#000"/>
<line x1="378.5" y1="598" x2="378.5" y2="603" stroke="#000"/>
<line x1="433.5" y1="598" x2="433.5" y2="603" stroke="#000"/>
<line x1="488.5" y1="598" x2="488.5" y2="603" stroke="#000"/>
<line x1="542.5" y1="598" x2="542.5" y2="603" stroke="#000"/>
<line x1="597.5" y1="598" x2="597.5" y2="603" stroke="#000"/>
<line x1="652.5" y1="598" x2="652.5" y2="603" stroke="#000"/>
<line x1="707.5" y1="598" x2="707.5" y2="603" stroke="#000"/>
<line x1="761.5" y1="598" x2="761.5" y2="603" stroke="#000"/>
<line x1="816.5" y1="598" x2="816.5" y2="603" stroke="#000"/>
<line x1="871.5" y1="598" x2="871.5" y2="603" stroke="#000"/>
<line x1="925.5" y1="598" x2="925.5" y2="603" stroke="#000"/>
<line x1="980.5" y1="598" x2="980.5" y2="603" stroke="#000"/>
<line x1="1035.5" y1="598" x2="1035.5" y2="603" stroke="#000"/>
<line x1="1089.5" y1="598" x2="1089.5" y2="603" stroke="#000"/>
<line x1="1144.5" y1="598" x2="1144.5" y2="603" stroke="#000"/>
</g>
<g stroke="#f00" stroke-width="1" shape-rendering="crispEdges">
<line x1="98" y1="589.5" x2="100" y2="589.5"/>
<line x1="100" y1="589.5" x2="101" y2="589.5" stroke-opacity="0.55"/>
<line x1="98" y1="569.5" x2="100" y2="569.5"/>
<line x1="100" y1="569.5" x2="101" y2="569.5" stroke-opacity="0.55"/>
<line x1="98" y1="548.5" x2="100" y2="548.5"/>
<line x1="100" y1="548.5" x2="101" y2="548.5" stroke-opacity="0.55"/>
<line x1="98" y1="527.5" x2="100" y2="527.5"/>
<line x1="100" y1="527.5" x2="101" y2="527.5" stroke-opacity="0.55"/>
<line x1="98" y1="507.5" x2="100" y2="507.5"/>
<line x1="100" y1="507.5" x2="101" y2="507.5" stroke-opacity="0.55"/>
<line x1="98" y1="486.5" x2="100" y2="486.5"/>
<line x1="100" y1="486.5" x2="101" y2="486.5" stroke-opacity="0.55"/>
<line x1="98" y1="466.5" x2="100" y2="466.5"/>
<line x1="100" y1="466.5" x2="101" y2="466.5" stroke-opacity="0.55"/>
<line x1="98" y1="445.5" x2="100" y2="445.5"/>
<line x1="100" y1="445.5" x2="101" y2="445.5" stroke-opacity="0.55"/>
<line x1="98" y1="425.5" x2="100" y2="425.5"/>
<line x1="100" y1="425.5" x2="101" y2="425.5" stroke-opacity="0.55"/>
<line x1="98" y1="404.5" x2="100" y2="404.5"/>
<line x1="100" y1="404.5" x2="101" y2="404.5" stroke-opacity="0.55"/>
<line x1="98" y1="383.5" x2="100" y2="383.5"/>
<line x1="100" y1="383.5" x2="101" y2="383.5" stroke-opacity="0.55"/>
<line x1="98" y1="363.5" x2="100" y2="363.5"/>
<line x1="100" y1="363.5" x2="101" y2="363.5" stroke-opacity="0.55"/>
<line x1="98" y1="342.5" x2="100" y2="342.5"/>
<line x1="100" y1="342.5" x2="101" y2="342.5" stroke-opacity="0.55"/>
<line x1="98" y1="322.5" x2="100" y2="322.5"/>
<line x1="100" y1="322.5" x2="101" y2="322.5" stroke-opacity="0.55"/>
<line x1="98" y1="301.5" x2="100" y2="301.5"/>
<line x1="100" y1="301.5" x2="101" y2="301.5" stroke-opacity="0.55"/>
<line x1="98" y1="281.5" x2="100" y2="281.5"/>
<line x1="100" y1="281.5" x2="101" y2="281.5" stroke-opacity="0.55"/>
<line x1="98" y1="260.5" x2="100" y2="260.5"/>
<line x1="100" y1="260.5" x2="101" y2="260.5" stroke-opacity="0.55"/>
<line x1="98" y1="239.5" x2="100" y2="239.5"/>
<line x1="100" y1="239.5" x2="101" y2="239.5" stroke-opacity="0.55"/>
<line x1="98" y1="219.5" x2="100" y2="219.5"/>
<line x1="100" y1="219.5" x2="101" y2="219.5" stroke-opacity="0.55"/>
<line x1="98" y1="198.5" x2="100" y2="198.5"/>
<line x1="100" y1="198.5" x2="101" y2="198.5" stroke-opacity="0.55"/>
<line x1="98" y1="178.5" x2="100" y2="178.5"/>
<line x1="100" y1="178.5" x2="101" y2="178.5" stroke-opacity="0.55"/>
<line x1="98" y1="157.5" x2="100" y2="157.5"/>
<line x1="100" y1="157.5" x2="101" y2="157.5" stroke-opacity="0.55"/>
<line x1="98" y1="137.5" x2="100" y2="137.5"/>
<line x1="100" y1="137.5" x2="101" y2="137.5" stroke-opacity="0.55"/>
<line x1="98" y1="116.5" x2="100" y2="116.5"/>
<line x1="100" y1="116.5" x2="101" y2="116.5" stroke-opacity="0.55"/>
<line x1="98" y1="95.5" x2="100" y2="95.5"/>
<line x1="100" y1="95.5" x2="101" y2="95.5" stroke-opacity="0.55"/>
<line x1="98" y1="75.5" x2="100" y2="75.5"/>
<line x1="100" y1="75.5" x2="101" y2="75.5" stroke-opacity="0.55"/>
</g>
<g stroke="#d8d8d8" stroke-width="1" shape-rendering="crispEdges">
<line x1="116.5" y1="601" x2="116.5" y2="603"/>
<line x1="127.5" y1="601" x2="127.5" y2="603"/>
<line x1="138.5" y1="601" x2="138.5" y2="603"/>
<line x1="149.5" y1="601" x2="149.5" y2="603"/>
<line x1="171.5" y1="601" x2="171.5" y2="603"/>
<line x1="182.5" y1="601" x2="182.5" y2="603"/>
<line x1="192.5" y1="601" x2="192.5" y2="603"/>
<line x1="203.5" y1="601" x2="203.5" y2="603"/>
<line x1="225.5" y1="601" x2="225.5" y2="603"/>
<line x1="236.5" y1="601" x2="236.5" y2="603"/>
<line x1="247.5" y1="601" x2="247.5" y2="603"/>
<line x1="258.5" y1="601" x2="258.5" y2="603"/>
<line x1="280.5" y1="601" x2="280.5" y2="603"/>
<line x1="291.5" y1="601" x2="291.5" y2="603"/>
<line x1="302.5" y1="601" x2="302.5" y2="603"/>
<line x1="313.5" y1="601" x2="313.5" y2="603"/>
<line x1="335.5" y1="601" x2="335.5" y2="603"/>
<line x1="346.5" y1="601" x2="346.5" y2="603"/>
<line x1="357.5" y1="601" x2="357.5" y2="603"/>
<line x1="367.5" y1="601" x2="367.5" y2="603"/>
<line x1="389.5" y1="601" x2="389.5" y2="603"/>
<line x1="400.5" y1="601" x2="400.5" y2="603"/>
<line x1="411.5" y1="601" x2="411.5" y2="603"/>
<line x1="422.5" y1="601" x2="422.5" y2="603"/>
<line x1="444.5" y1="601" x2="444.5" y2="603"/>
<line x1="455.5" y1="601" x2="455.5" y2="603"/>
<line x1="466.5" y1="601" x2="466.5" y2="603"/>
<line x1="477.5" y1="601" x2="477.5" y2="603"/>
<line x1="499.5" y1="601" x2="499.5" y2="603"/>
<line x1="510.5" y1="601" x2="510.5" y2="603"/>
<line x1="521.5" y1="601" x2="521.5" y2="603"/>
<line x1="532.5" y1="601" x2="532.5" y2="603"/>
<line x1="553.5" y1="601" x2="553.5" y2="603"/>
<line x1="564.5" y1="601" x2="564.5" y2="603"/>
<line x1="575.5" y1="601" x2="575.5" y2="603"/>
<line x1="586.5" y1="601" x2="586.5" y2="603"/>
<line x1="608.5" y1="601" x2="608.5" y2="603"/>
<line x1="619.5" y1="601" x2="619.5" y2="603"/>
<line x1="630.5" y1="601" x2="630.5" y2="603"/>
<line x1="641.5" y1="601" x2="641.5" y2="603"/>
<line x1="663.5" y1="601" x2="663.5" y2="603"/>
<line x1="674.5" y1="601" x2="674.5" y2="603"/>
<line x1="685.5" y1="601" x2="685.5" y2="603"/>
<line x1="696.5" y1="601" x2="696.5" y2="603"/>
<line x1="717.5" y1="601" x2="717.5" y2="603"/>
<line x1="728.5" y1="601" x2="728.5" y2="603"/>
<line x1="739.5" y1="601" x2="739.5" y2="603"/>
<line x1="750.5" y1="601" x2="750.5" y2="603"/>
<line x1="772.5" y1="601" x2="772.5" y2="603"/>
<line x1="783.5" y1="601" x2="783.5" y2="603"/>
<line x1="794.5" y1="601" x2="794.5" y2="603"/>
<line x1="805.5" y1="601" x2="805.5" y2="603"/>
<line x1="827.5" y1="601" x2="827.5" y2="603"/>
<line x1="838.5" y1="601" x2="838.5" y2="603"/>
<line x1="849.5" y1="601" x2="849.5" y2="603"/>
<line x1="860.5" y1="601" x2="860.5" y2="603"/>
<line x1="882.5" y1="601" x2="882.5" y2="603"/>
<line x1="892.5" y1="601" x2="892.5" y2="603"/>
<line x1="903.5" y1="601" x2="903.5" y2="603"/>
<line x1="914.5" y1="601" x2="914.5" y2="603"/>
<line x1="936.5" y1="601" x2="936.5" y2="603"/>
<line x1="947.5" y1="601" x2="947.5" y2="603"/>
<line x1="958.5" y1="601" x2="958.5" y2="603"/>
<line x1="969.5" y1="601" x2="969.5" y2="603"/>
<line x1="991.5" y1="601" x2="991.5" y2="603"/>
<line x1="1002.5" y1="601" x2="1002.5" y2="603"/>
<line x1="1013.5" y1="601" x2="1013.5" y2="603"/>
<line x1="1024.5" y1="601" x2="1024.5" y2="603"/>
<line x1="1046.5" y1="601" x2="1046.5" y2="603"/>
<line x1="1057.5" y1="601" x2="1057.5" y2="603"/>
<line x1="1067.5" y1="601" x2="1067.5" y2="603"/>
<line x1="1078.5" y1="601" x2="1078.5" y2="603"/>
<line x1="1100.5" y1="601" x2="1100.5" y2="603"/>
<line x1="1111.5" y1="601" x2="1111.5" y2="603"/>
<line x1="1122.5" y1="601" x2="1122.5" y2="603"/>
<line x1="1133.5" y1="601" x2="1133.5" y2="603"/>
</g>
<path d="M100.5 52.5 L104.3 59.5 L96.7 59.5 Z" fill="#000"/>
<path d="M1161.8 600.5 L1155.2 596.8 L1155.2 604.2 Z" fill="#000"/>
<g font-family='"DejaVu Sans", "Liberation Sans", sans-serif' font-size="10.7" fill="#000">
<text x="94.5" y="604.00" text-anchor="end" font-size="10.5">25.50</text>
<text x="94.5" y="583.00" text-anchor="end" font-size="10.5">26.00</text>
<text x="94.5" y="562.00" text-anchor="end" font-size="10.5">26.50</text>
<text x="94.5" y="542.00" text-anchor="end" font-size="10.5">27.00</text>
<text x="94.5" y="521.00" text-anchor="end" font-size="10.5">27.50</text>
<text x="94.5" y="501.00" text-anchor="end" font-size="10.5">28.00</text>
<text x="94.5" y="480.00" text-anchor="end" font-size="10.5">28.50</text>
<text x="94.5" y="459.00" text-anchor="end" font-size="10.5">29.00</text>
<text x="94.5" y="439.00" text-anchor="end" font-size="10.5">29.50</text>
<text x="94.5" y="418.00" text-anchor="end" font-size="10.5">30.00</text>
<text x="94.5" y="398.00" text-anchor="end" font-size="10.5">30.50</text>
<text x="94.5" y="377.00" text-anchor="end" font-size="10.5">31.00</text>
<text x="94.5" y="357.00" text-anchor="end" font-size="10.5">31.50</text>
<text x="94.5" y="336.00" text-anchor="end" font-size="10.5">32.00</text>
<text x="94.5" y="315.00" text-anchor="end" font-size="10.5">32.50</text>
<text x="94.5" y="295.00" text-anchor="end" font-size="10.5">33.00</text>
<text x="94.5" y="274.00" text-anchor="end" font-size="10.5">33.50</text>
<text x="94.5" y="254.00" text-anchor="end" font-size="10.5">34.00</text>
<text x="94.5" y="233.00" text-anchor="end" font-size="10.5">34.50</text>
<text x="94.5" y="213.00" text-anchor="end" font-size="10.5">35.00</text>
<text x="94.5" y="192.00" text-anchor="end" font-size="10.5">35.50</text>
<text x="94.5" y="171.00" text-anchor="end" font-size="10.5">36.00</text>
<text x="94.5" y="151.00" text-anchor="end" font-size="10.5">36.50</text>
<text x="94.5" y="130.00" text-anchor="end" font-size="10.5">37.00</text>
<text x="94.5" y="110.00" text-anchor="end" font-size="10.5">37.50</text>
<text x="94.5" y="89.00" text-anchor="end" font-size="10.5">38.00</text>
<text x="94.5" y="69.00" text-anchor="end" font-size="10.5">38.50</text>
<text x="88.51" y="613" textLength="30.71" lengthAdjust="spacingAndGlyphs" font-size="10.67">6 Nov</text>
<text x="139.74" y="613" textLength="38.01" lengthAdjust="spacingAndGlyphs" font-size="10.67">14 Nov</text>
<text x="194.49" y="613" textLength="38.27" lengthAdjust="spacingAndGlyphs" font-size="10.67">21 Nov</text>
<text x="249.49" y="613" textLength="38.27" lengthAdjust="spacingAndGlyphs" font-size="10.67">28 Nov</text>
<text x="307.74" y="614" textLength="31.06" lengthAdjust="spacingAndGlyphs" font-size="10.67">5 Déc</text>
<text x="358.99" y="614" textLength="37.84" lengthAdjust="spacingAndGlyphs" font-size="10.67">12 Déc</text>
<text x="413.48" y="614" textLength="38.36" lengthAdjust="spacingAndGlyphs" font-size="10.67">19 Déc</text>
<text x="468.48" y="614" textLength="38.36" lengthAdjust="spacingAndGlyphs" font-size="10.67">28 Déc</text>
<text x="523.16" y="613" textLength="35.83" lengthAdjust="spacingAndGlyphs" font-size="10.67">5 Janv</text>
<text x="575.18" y="613" textLength="42.56" lengthAdjust="spacingAndGlyphs" font-size="10.67">12 Janv</text>
<text x="629.43" y="613" textLength="42.56" lengthAdjust="spacingAndGlyphs" font-size="10.67">19 Janv</text>
<text x="684.43" y="613" textLength="42.56" lengthAdjust="spacingAndGlyphs" font-size="10.67">26 Janv</text>
<text x="745.96" y="614" textLength="29.64" lengthAdjust="spacingAndGlyphs" font-size="10.67">2 Fév</text>
<text x="800.70" y="614" textLength="29.90" lengthAdjust="spacingAndGlyphs" font-size="10.67">9 Fév</text>
<text x="851.49" y="614" textLength="35.88" lengthAdjust="spacingAndGlyphs" font-size="10.67">16 Fév</text>
<text x="906.47" y="614" textLength="36.40" lengthAdjust="spacingAndGlyphs" font-size="10.67">23 Fév</text>
<text x="960.74" y="613" textLength="36.36" lengthAdjust="spacingAndGlyphs" font-size="10.67">2 Mars</text>
<text x="1015.74" y="613" textLength="36.36" lengthAdjust="spacingAndGlyphs" font-size="10.67">9 Mars</text>
<text x="1066.48" y="613" textLength="43.39" lengthAdjust="spacingAndGlyphs" font-size="10.67">16 Mars</text>
<text x="1121.48" y="613" textLength="43.39" lengthAdjust="spacingAndGlyphs" font-size="10.67">23 Mars</text>
<text x="500.48" y="626" textLength="247.16" lengthAdjust="spacingAndGlyphs" font-size="10.67">Date (du 6 Novembre 2017 au 23 Mars 2018)</text>
<text transform="translate(59 366.25) rotate(-90)" x="-1.06" textLength="70.62" lengthAdjust="spacingAndGlyphs" font-size="10.67">Cours (Euro)</text>
</g>
<text y="34" font-family='"DejaVu Sans", "Liberation Sans", sans-serif' font-size="24" fill="#000"><tspan x="111.25" textLength="93.86" lengthAdjust="spacingAndGlyphs">Tarkett:</tspan> <tspan x="214.02" textLength="120.10" lengthAdjust="spacingAndGlyphs">graphique</tspan> <tspan x="342.73" textLength="31.02" lengthAdjust="spacingAndGlyphs">du</tspan> <tspan x="381.01" textLength="64.95" lengthAdjust="spacingAndGlyphs">cours</tspan> <tspan x="454.50" textLength="8.67" lengthAdjust="spacingAndGlyphs">-</tspan> <tspan x="473.25" textLength="209.09" lengthAdjust="spacingAndGlyphs">AnalyBourse.com</tspan></text>
<g font-family='"DejaVu Sans", "Liberation Sans", sans-serif' font-size="10.5" fill="#000">
<rect x="551" y="51" width="6" height="6" fill="#d0d0d0"/>
<rect x="550" y="50" width="6" height="6" fill="#c8646e"/>
<text x="558.99" y="55" textLength="53.08" lengthAdjust="spacingAndGlyphs" font-size="10.67">Support 1</text>
<rect x="621" y="51" width="6" height="6" fill="#d0d0d0"/>
<rect x="620" y="50" width="6" height="6" fill="#b4646e"/>
<text x="628.98" y="55" textLength="53.60" lengthAdjust="spacingAndGlyphs" font-size="10.67">Support 2</text>
<rect x="691" y="51" width="6" height="6" fill="#d0d0d0"/>
<rect x="690" y="50" width="6" height="6" fill="#a0646e"/>
<text x="698.98" y="55" textLength="53.60" lengthAdjust="spacingAndGlyphs" font-size="10.67">Support 3</text>
<rect x="761" y="51" width="6" height="6" fill="#d0d0d0"/>
<rect x="760" y="50" width="6" height="6" fill="#64c864"/>
<text x="769.02" y="57" textLength="66.57" lengthAdjust="spacingAndGlyphs" font-size="10.67">Résistance 1</text>
<rect x="845" y="51" width="6" height="6" fill="#d0d0d0"/>
<rect x="844" y="50" width="6" height="6" fill="#64b464"/>
<text x="853.01" y="57" textLength="66.83" lengthAdjust="spacingAndGlyphs" font-size="10.67">Résistance 2</text>
<rect x="929" y="51" width="6" height="6" fill="#d0d0d0"/>
<rect x="928" y="50" width="6" height="6" fill="#64a064"/>
<text x="937.00" y="57" textLength="67.34" lengthAdjust="spacingAndGlyphs" font-size="10.67">Résistance 3</text>
<rect x="1013" y="51" width="6" height="6" fill="#d0d0d0"/>
<rect x="1012" y="50" width="6" height="6" fill="#6464ff"/>
<text x="1021.02" y="55" textLength="31.15" lengthAdjust="spacingAndGlyphs" font-size="10.67">MM20</text>
<rect x="1061" y="51" width="6" height="6" fill="#d0d0d0"/>
<rect x="1060" y="50" width="6" height="6" fill="#b464ff"/>
<text x="1068.77" y="55" textLength="31.42" lengthAdjust="spacingAndGlyphs" font-size="10.67">MM50</text>
<rect x="1109" y="51" width="6" height="6" fill="#d0d0d0"/>
<rect x="1108" y="50" width="6" height="6" fill="#ff64ff"/>
<text x="1116.78" y="55" textLength="37.69" lengthAdjust="spacingAndGlyphs" font-size="10.67">MM100</text>
</g>
<rect x="102" y="856.25" width="1049" height="21.88" fill="#f9f9f9"/>
<rect x="102" y="812.50" width="1049" height="21.88" fill="#f9f9f9"/>
<rect x="102" y="768.75" width="1049" height="21.88" fill="#f9f9f9"/>
<rect x="102" y="725.00" width="1049" height="21.88" fill="#f9f9f9"/>
<g stroke="#000" stroke-opacity="0.022" stroke-width="1" stroke-dasharray="6 6" shape-rendering="crispEdges">
<line x1="116.5" y1="725" x2="116.5" y2="900" stroke-dashoffset="1"/>
<line x1="127.5" y1="725" x2="127.5" y2="900" stroke-dashoffset="1"/>
<line x1="138.5" y1="725" x2="138.5" y2="900" stroke-dashoffset="1"/>
<line x1="149.5" y1="725" x2="149.5" y2="900" stroke-dashoffset="1"/>
<line x1="171.5" y1="725" x2="171.5" y2="900" stroke-dashoffset="1"/>
<line x1="182.5" y1="725" x2="182.5" y2="900" stroke-dashoffset="1"/>
<line x1="192.5" y1="725" x2="192.5" y2="900" stroke-dashoffset="1"/>
<line x1="203.5" y1="725" x2="203.5" y2="900" stroke-dashoffset="1"/>
<line x1="225.5" y1="725" x2="225.5" y2="900" stroke-dashoffset="1"/>
<line x1="236.5" y1="725" x2="236.5" y2="900" stroke-dashoffset="1"/>
<line x1="247.5" y1="725" x2="247.5" y2="900" stroke-dashoffset="1"/>
<line x1="258.5" y1="725" x2="258.5" y2="900" stroke-dashoffset="1"/>
<line x1="280.5" y1="725" x2="280.5" y2="900" stroke-dashoffset="1"/>
<line x1="291.5" y1="725" x2="291.5" y2="900" stroke-dashoffset="1"/>
<line x1="302.5" y1="725" x2="302.5" y2="900" stroke-dashoffset="1"/>
<line x1="313.5" y1="725" x2="313.5" y2="900" stroke-dashoffset="1"/>
<line x1="335.5" y1="725" x2="335.5" y2="900" stroke-dashoffset="1"/>
<line x1="346.5" y1="725" x2="346.5" y2="900" stroke-dashoffset="1"/>
<line x1="357.5" y1="725" x2="357.5" y2="900" stroke-dashoffset="1"/>
<line x1="367.5" y1="725" x2="367.5" y2="900" stroke-dashoffset="1"/>
<line x1="389.5" y1="725" x2="389.5" y2="900" stroke-dashoffset="1"/>
<line x1="400.5" y1="725" x2="400.5" y2="900" stroke-dashoffset="1"/>
<line x1="411.5" y1="725" x2="411.5" y2="900" stroke-dashoffset="1"/>
<line x1="422.5" y1="725" x2="422.5" y2="900" stroke-dashoffset="1"/>
<line x1="444.5" y1="725" x2="444.5" y2="900" stroke-dashoffset="1"/>
<line x1="455.5" y1="725" x2="455.5" y2="900" stroke-dashoffset="1"/>
<line x1="466.5" y1="725" x2="466.5" y2="900" stroke-dashoffset="1"/>
<line x1="477.5" y1="725" x2="477.5" y2="900" stroke-dashoffset="1"/>
<line x1="499.5" y1="725" x2="499.5" y2="900" stroke-dashoffset="1"/>
<line x1="510.5" y1="725" x2="510.5" y2="900" stroke-dashoffset="1"/>
<line x1="521.5" y1="725" x2="521.5" y2="900" stroke-dashoffset="1"/>
<line x1="532.5" y1="725" x2="532.5" y2="900" stroke-dashoffset="1"/>
<line x1="553.5" y1="725" x2="553.5" y2="900" stroke-dashoffset="1"/>
<line x1="564.5" y1="725" x2="564.5" y2="900" stroke-dashoffset="1"/>
<line x1="575.5" y1="725" x2="575.5" y2="900" stroke-dashoffset="1"/>
<line x1="586.5" y1="725" x2="586.5" y2="900" stroke-dashoffset="1"/>
<line x1="608.5" y1="725" x2="608.5" y2="900" stroke-dashoffset="1"/>
<line x1="619.5" y1="725" x2="619.5" y2="900" stroke-dashoffset="1"/>
<line x1="630.5" y1="725" x2="630.5" y2="900" stroke-dashoffset="1"/>
<line x1="641.5" y1="725" x2="641.5" y2="900" stroke-dashoffset="1"/>
<line x1="663.5" y1="725" x2="663.5" y2="900" stroke-dashoffset="1"/>
<line x1="674.5" y1="725" x2="674.5" y2="900" stroke-dashoffset="1"/>
<line x1="685.5" y1="725" x2="685.5" y2="900" stroke-dashoffset="1"/>
<line x1="696.5" y1="725" x2="696.5" y2="900" stroke-dashoffset="1"/>
<line x1="717.5" y1="725" x2="717.5" y2="900" stroke-dashoffset="1"/>
<line x1="728.5" y1="725" x2="728.5" y2="900" stroke-dashoffset="1"/>
<line x1="739.5" y1="725" x2="739.5" y2="900" stroke-dashoffset="1"/>
<line x1="750.5" y1="725" x2="750.5" y2="900" stroke-dashoffset="1"/>
<line x1="772.5" y1="725" x2="772.5" y2="900" stroke-dashoffset="1"/>
<line x1="783.5" y1="725" x2="783.5" y2="900" stroke-dashoffset="1"/>
<line x1="794.5" y1="725" x2="794.5" y2="900" stroke-dashoffset="1"/>
<line x1="805.5" y1="725" x2="805.5" y2="900" stroke-dashoffset="1"/>
<line x1="827.5" y1="725" x2="827.5" y2="900" stroke-dashoffset="1"/>
<line x1="838.5" y1="725" x2="838.5" y2="900" stroke-dashoffset="1"/>
<line x1="849.5" y1="725" x2="849.5" y2="900" stroke-dashoffset="1"/>
<line x1="860.5" y1="725" x2="860.5" y2="900" stroke-dashoffset="1"/>
<line x1="882.5" y1="725" x2="882.5" y2="900" stroke-dashoffset="1"/>
<line x1="892.5" y1="725" x2="892.5" y2="900" stroke-dashoffset="1"/>
<line x1="903.5" y1="725" x2="903.5" y2="900" stroke-dashoffset="1"/>
<line x1="914.5" y1="725" x2="914.5" y2="900" stroke-dashoffset="1"/>
<line x1="936.5" y1="725" x2="936.5" y2="900" stroke-dashoffset="1"/>
<line x1="947.5" y1="725" x2="947.5" y2="900" stroke-dashoffset="1"/>
<line x1="958.5" y1="725" x2="958.5" y2="900" stroke-dashoffset="1"/>
<line x1="969.5" y1="725" x2="969.5" y2="900" stroke-dashoffset="1"/>
<line x1="991.5" y1="725" x2="991.5" y2="900" stroke-dashoffset="1"/>
<line x1="1002.5" y1="725" x2="1002.5" y2="900" stroke-dashoffset="1"/>
<line x1="1013.5" y1="725" x2="1013.5" y2="900" stroke-dashoffset="1"/>
<line x1="1024.5" y1="725" x2="1024.5" y2="900" stroke-dashoffset="1"/>
<line x1="1046.5" y1="725" x2="1046.5" y2="900" stroke-dashoffset="1"/>
<line x1="1057.5" y1="725" x2="1057.5" y2="900" stroke-dashoffset="1"/>
<line x1="1067.5" y1="725" x2="1067.5" y2="900" stroke-dashoffset="1"/>
<line x1="1078.5" y1="725" x2="1078.5" y2="900" stroke-dashoffset="1"/>
<line x1="1100.5" y1="725" x2="1100.5" y2="900" stroke-dashoffset="1"/>
<line x1="1111.5" y1="725" x2="1111.5" y2="900" stroke-dashoffset="1"/>
<line x1="1122.5" y1="725" x2="1122.5" y2="900" stroke-dashoffset="1"/>
<line x1="1133.5" y1="725" x2="1133.5" y2="900" stroke-dashoffset="1"/>
</g>
<g stroke="#000" stroke-opacity="0.066" stroke-width="1" stroke-dasharray="4 4" shape-rendering="crispEdges">
<line x1="105.5" y1="725" x2="105.5" y2="900" stroke-dashoffset="1"/>
<line x1="160.5" y1="725" x2="160.5" y2="900" stroke-dashoffset="1"/>
<line x1="214.5" y1="725" x2="214.5" y2="900" stroke-dashoffset="1"/>
<line x1="269.5" y1="725" x2="269.5" y2="900" stroke-dashoffset="1"/>
<line x1="324.5" y1="725" x2="324.5" y2="900" stroke-dashoffset="1"/>
<line x1="378.5" y1="725" x2="378.5" y2="900" stroke-dashoffset="1"/>
<line x1="433.5" y1="725" x2="433.5" y2="900" stroke-dashoffset="1"/>
<line x1="488.5" y1="725" x2="488.5" y2="900" stroke-dashoffset="1"/>
<line x1="542.5" y1="725" x2="542.5" y2="900" stroke-dashoffset="1"/>
<line x1="597.5" y1="725" x2="597.5" y2="900" stroke-dashoffset="1"/>
<line x1="652.5" y1="725" x2="652.5" y2="900" stroke-dashoffset="1"/>
<line x1="707.5" y1="725" x2="707.5" y2="900" stroke-dashoffset="1"/>
<line x1="761.5" y1="725" x2="761.5" y2="900" stroke-dashoffset="1"/>
<line x1="816.5" y1="725" x2="816.5" y2="900" stroke-dashoffset="1"/>
<line x1="871.5" y1="725" x2="871.5" y2="900" stroke-dashoffset="1"/>
<line x1="925.5" y1="725" x2="925.5" y2="900" stroke-dashoffset="1"/>
<line x1="980.5" y1="725" x2="980.5" y2="900" stroke-dashoffset="1"/>
<line x1="1035.5" y1="725" x2="1035.5" y2="900" stroke-dashoffset="1"/>
<line x1="1089.5" y1="725" x2="1089.5" y2="900" stroke-dashoffset="1"/>
<line x1="1144.5" y1="725" x2="1144.5" y2="900" stroke-dashoffset="1"/>
</g>
<g stroke="#000" stroke-opacity="0.06" stroke-width="1" stroke-dasharray="4 4" shape-rendering="crispEdges">
<line x1="107" y1="878.5" x2="1151" y2="878.5"/>
<line x1="107" y1="856.5" x2="1151" y2="856.5"/>
<line x1="107" y1="834.5" x2="1151" y2="834.5"/>
<line x1="107" y1="812.5" x2="1151" y2="812.5"/>
<line x1="107" y1="790.5" x2="1151" y2="790.5"/>
<line x1="107" y1="768.5" x2="1151" y2="768.5"/>
<line x1="107" y1="746.5" x2="1151" y2="746.5"/>
<line x1="107" y1="725.5" x2="1151" y2="725.5"/>
</g>
<g stroke="#262626" stroke-width="1" shape-rendering="crispEdges">
<line x1="100.5" y1="719" x2="100.5" y2="901"/>
<line x1="100" y1="900.5" x2="1163" y2="900.5" stroke="#000"/>
<line x1="98" y1="900.5" x2="103" y2="900.5"/>
<line x1="98" y1="878.5" x2="103" y2="878.5"/>
<line x1="98" y1="856.5" x2="103" y2="856.5"/>
<line x1="98" y1="834.5" x2="103" y2="834.5"/>
<line x1="98" y1="812.5" x2="103" y2="812.5"/>
<line x1="98" y1="790.5" x2="103" y2="790.5"/>
<line x1="98" y1="768.5" x2="103" y2="768.5"/>
<line x1="98" y1="746.5" x2="103" y2="746.5"/>
<line x1="98" y1="725.5" x2="103" y2="725.5"/>
<line x1="105.5" y1="898" x2="105.5" y2="903" stroke="#000"/>
<line x1="160.5" y1="898" x2="160.5" y2="903" stroke="#000"/>
<line x1="214.5" y1="898" x2="214.5" y2="903" stroke="#000"/>
<line x1="269.5" y1="898" x2="269.5" y2="903" stroke="#000"/>
<line x1="324.5" y1="898" x2="324.5" y2="903" stroke="#000"/>
<line x1="378.5" y1="898" x2="378.5" y2="903" stroke="#000"/>
<line x1="433.5" y1="898" x2="433.5" y2="903" stroke="#000"/>
<line x1="488.5" y1="898" x2="488.5" y2="903" stroke="#000"/>
<line x1="542.5" y1="898" x2="542.5" y2="903" stroke="#000"/>
<line x1="597.5" y1="898" x2="597.5" y2="903" stroke="#000"/>
<line x1="652.5" y1="898" x2="652.5" y2="903" stroke="#000"/>
<line x1="707.5" y1="898" x2="707.5" y2="903" stroke="#000"/>
<line x1="761.5" y1="898" x2="761.5" y2="903" stroke="#000"/>
<line x1="816.5" y1="898" x2="816.5" y2="903" stroke="#000"/>
<line x1="871.5" y1="898" x2="871.5" y2="903" stroke="#000"/>
<line x1="925.5" y1="898" x2="925.5" y2="903" stroke="#000"/>
<line x1="980.5" y1="898" x2="980.5" y2="903" stroke="#000"/>
<line x1="1035.5" y1="898" x2="1035.5" y2="903" stroke="#000"/>
<line x1="1089.5" y1="898" x2="1089.5" y2="903" stroke="#000"/>
<line x1="1144.5" y1="898" x2="1144.5" y2="903" stroke="#000"/>
</g>
<g stroke="#f00" stroke-width="1" shape-rendering="crispEdges">
<line x1="98" y1="889.5" x2="100" y2="889.5"/>
<line x1="100" y1="889.5" x2="101" y2="889.5" stroke-opacity="0.55"/>
<line x1="98" y1="867.5" x2="100" y2="867.5"/>
<line x1="100" y1="867.5" x2="101" y2="867.5" stroke-opacity="0.55"/>
<line x1="98" y1="845.5" x2="100" y2="845.5"/>
<line x1="100" y1="845.5" x2="101" y2="845.5" stroke-opacity="0.55"/>
<line x1="98" y1="823.5" x2="100" y2="823.5"/>
<line x1="100" y1="823.5" x2="101" y2="823.5" stroke-opacity="0.55"/>
<line x1="98" y1="801.5" x2="100" y2="801.5"/>
<line x1="100" y1="801.5" x2="101" y2="801.5" stroke-opacity="0.55"/>
<line x1="98" y1="779.5" x2="100" y2="779.5"/>
<line x1="100" y1="779.5" x2="101" y2="779.5" stroke-opacity="0.55"/>
<line x1="98" y1="757.5" x2="100" y2="757.5"/>
<line x1="100" y1="757.5" x2="101" y2="757.5" stroke-opacity="0.55"/>
<line x1="98" y1="735.5" x2="100" y2="735.5"/>
<line x1="100" y1="735.5" x2="101" y2="735.5" stroke-opacity="0.55"/>
</g>
<g stroke="#d8d8d8" stroke-width="1" shape-rendering="crispEdges">
<line x1="116.5" y1="901" x2="116.5" y2="903"/>
<line x1="127.5" y1="901" x2="127.5" y2="903"/>
<line x1="138.5" y1="901" x2="138.5" y2="903"/>
<line x1="149.5" y1="901" x2="149.5" y2="903"/>
<line x1="171.5" y1="901" x2="171.5" y2="903"/>
<line x1="182.5" y1="901" x2="182.5" y2="903"/>
<line x1="192.5" y1="901" x2="192.5" y2="903"/>
<line x1="203.5" y1="901" x2="203.5" y2="903"/>
<line x1="225.5" y1="901" x2="225.5" y2="903"/>
<line x1="236.5" y1="901" x2="236.5" y2="903"/>
<line x1="247.5" y1="901" x2="247.5" y2="903"/>
<line x1="258.5" y1="901" x2="258.5" y2="903"/>
<line x1="280.5" y1="901" x2="280.5" y2="903"/>
<line x1="291.5" y1="901" x2="291.5" y2="903"/>
<line x1="302.5" y1="901" x2="302.5" y2="903"/>
<line x1="313.5" y1="901" x2="313.5" y2="903"/>
<line x1="335.5" y1="901" x2="335.5" y2="903"/>
<line x1="346.5" y1="901" x2="346.5" y2="903"/>
<line x1="357.5" y1="901" x2="357.5" y2="903"/>
<line x1="367.5" y1="901" x2="367.5" y2="903"/>
<line x1="389.5" y1="901" x2="389.5" y2="903"/>
<line x1="400.5" y1="901" x2="400.5" y2="903"/>
<line x1="411.5" y1="901" x2="411.5" y2="903"/>
<line x1="422.5" y1="901" x2="422.5" y2="903"/>
<line x1="444.5" y1="901" x2="444.5" y2="903"/>
<line x1="455.5" y1="901" x2="455.5" y2="903"/>
<line x1="466.5" y1="901" x2="466.5" y2="903"/>
<line x1="477.5" y1="901" x2="477.5" y2="903"/>
<line x1="499.5" y1="901" x2="499.5" y2="903"/>
<line x1="510.5" y1="901" x2="510.5" y2="903"/>
<line x1="521.5" y1="901" x2="521.5" y2="903"/>
<line x1="532.5" y1="901" x2="532.5" y2="903"/>
<line x1="553.5" y1="901" x2="553.5" y2="903"/>
<line x1="564.5" y1="901" x2="564.5" y2="903"/>
<line x1="575.5" y1="901" x2="575.5" y2="903"/>
<line x1="586.5" y1="901" x2="586.5" y2="903"/>
<line x1="608.5" y1="901" x2="608.5" y2="903"/>
<line x1="619.5" y1="901" x2="619.5" y2="903"/>
<line x1="630.5" y1="901" x2="630.5" y2="903"/>
<line x1="641.5" y1="901" x2="641.5" y2="903"/>
<line x1="663.5" y1="901" x2="663.5" y2="903"/>
<line x1="674.5" y1="901" x2="674.5" y2="903"/>
<line x1="685.5" y1="901" x2="685.5" y2="903"/>
<line x1="696.5" y1="901" x2="696.5" y2="903"/>
<line x1="717.5" y1="901" x2="717.5" y2="903"/>
<line x1="728.5" y1="901" x2="728.5" y2="903"/>
<line x1="739.5" y1="901" x2="739.5" y2="903"/>
<line x1="750.5" y1="901" x2="750.5" y2="903"/>
<line x1="772.5" y1="901" x2="772.5" y2="903"/>
<line x1="783.5" y1="901" x2="783.5" y2="903"/>
<line x1="794.5" y1="901" x2="794.5" y2="903"/>
<line x1="805.5" y1="901" x2="805.5" y2="903"/>
<line x1="827.5" y1="901" x2="827.5" y2="903"/>
<line x1="838.5" y1="901" x2="838.5" y2="903"/>
<line x1="849.5" y1="901" x2="849.5" y2="903"/>
<line x1="860.5" y1="901" x2="860.5" y2="903"/>
<line x1="882.5" y1="901" x2="882.5" y2="903"/>
<line x1="892.5" y1="901" x2="892.5" y2="903"/>
<line x1="903.5" y1="901" x2="903.5" y2="903"/>
<line x1="914.5" y1="901" x2="914.5" y2="903"/>
<line x1="936.5" y1="901" x2="936.5" y2="903"/>
<line x1="947.5" y1="901" x2="947.5" y2="903"/>
<line x1="958.5" y1="901" x2="958.5" y2="903"/>
<line x1="969.5" y1="901" x2="969.5" y2="903"/>
<line x1="991.5" y1="901" x2="991.5" y2="903"/>
<line x1="1002.5" y1="901" x2="1002.5" y2="903"/>
<line x1="1013.5" y1="901" x2="1013.5" y2="903"/>
<line x1="1024.5" y1="901" x2="1024.5" y2="903"/>
<line x1="1046.5" y1="901" x2="1046.5" y2="903"/>
<line x1="1057.5" y1="901" x2="1057.5" y2="903"/>
<line x1="1067.5" y1="901" x2="1067.5" y2="903"/>
<line x1="1078.5" y1="901" x2="1078.5" y2="903"/>
<line x1="1100.5" y1="901" x2="1100.5" y2="903"/>
<line x1="1111.5" y1="901" x2="1111.5" y2="903"/>
<line x1="1122.5" y1="901" x2="1122.5" y2="903"/>
<line x1="1133.5" y1="901" x2="1133.5" y2="903"/>
</g>
<path d="M100.5 712.5 L104.3 719.5 L96.7 719.5 Z" fill="#000"/>
<path d="M1161.8 900.5 L1155.2 896.8 L1155.2 904.2 Z" fill="#000"/>
<g font-family='"DejaVu Sans", "Liberation Sans", sans-serif' font-size="10.7" fill="#000">
<text x="94.5" y="902.70" text-anchor="end" font-size="10.5">0.00</text>
<text x="94.5" y="880.70" text-anchor="end" font-size="10.5">50,000.00</text>
<text x="94.5" y="858.70" text-anchor="end" font-size="10.5">100,000.00</text>
<text x="94.5" y="836.70" text-anchor="end" font-size="10.5">150,000.00</text>
<text x="94.5" y="814.70" text-anchor="end" font-size="10.5">200,000.00</text>
<text x="94.5" y="792.70" text-anchor="end" font-size="10.5">250,000.00</text>
<text x="94.5" y="770.70" text-anchor="end" font-size="10.5">300,000.00</text>
<text x="94.5" y="748.70" text-anchor="end" font-size="10.5">350,000.00</text>
<text x="94.5" y="727.70" text-anchor="end" font-size="10.5">400,000.00</text>
<text x="88.51" y="913" textLength="30.71" lengthAdjust="spacingAndGlyphs" font-size="10.67">6 Nov</text>
<text x="139.74" y="913" textLength="38.01" lengthAdjust="spacingAndGlyphs" font-size="10.67">14 Nov</text>
<text x="194.49" y="913" textLength="38.27" lengthAdjust="spacingAndGlyphs" font-size="10.67">21 Nov</text>
<text x="249.49" y="913" textLength="38.27" lengthAdjust="spacingAndGlyphs" font-size="10.67">28 Nov</text>
<text x="307.74" y="914" textLength="31.06" lengthAdjust="spacingAndGlyphs" font-size="10.67">5 Déc</text>
<text x="358.99" y="914" textLength="37.84" lengthAdjust="spacingAndGlyphs" font-size="10.67">12 Déc</text>
<text x="413.48" y="914" textLength="38.36" lengthAdjust="spacingAndGlyphs" font-size="10.67">19 Déc</text>
<text x="468.48" y="914" textLength="38.36" lengthAdjust="spacingAndGlyphs" font-size="10.67">28 Déc</text>
<text x="523.16" y="913" textLength="35.83" lengthAdjust="spacingAndGlyphs" font-size="10.67">5 Janv</text>
<text x="575.18" y="913" textLength="42.56" lengthAdjust="spacingAndGlyphs" font-size="10.67">12 Janv</text>
<text x="629.43" y="913" textLength="42.56" lengthAdjust="spacingAndGlyphs" font-size="10.67">19 Janv</text>
<text x="684.43" y="913" textLength="42.56" lengthAdjust="spacingAndGlyphs" font-size="10.67">26 Janv</text>
<text x="745.96" y="914" textLength="29.64" lengthAdjust="spacingAndGlyphs" font-size="10.67">2 Fév</text>
<text x="800.70" y="914" textLength="29.90" lengthAdjust="spacingAndGlyphs" font-size="10.67">9 Fév</text>
<text x="851.49" y="914" textLength="35.88" lengthAdjust="spacingAndGlyphs" font-size="10.67">16 Fév</text>
<text x="906.47" y="914" textLength="36.40" lengthAdjust="spacingAndGlyphs" font-size="10.67">23 Fév</text>
<text x="960.74" y="913" textLength="36.36" lengthAdjust="spacingAndGlyphs" font-size="10.67">2 Mars</text>
<text x="1015.74" y="913" textLength="36.36" lengthAdjust="spacingAndGlyphs" font-size="10.67">9 Mars</text>
<text x="1066.48" y="913" textLength="43.39" lengthAdjust="spacingAndGlyphs" font-size="10.67">16 Mars</text>
<text x="1121.48" y="913" textLength="43.39" lengthAdjust="spacingAndGlyphs" font-size="10.67">23 Mars</text>
<text x="500.48" y="926" textLength="247.16" lengthAdjust="spacingAndGlyphs" font-size="10.67">Date (du 6 Novembre 2017 au 23 Mars 2018)</text>
<text transform="translate(30.2 831.7) rotate(-90)" x="0.00" textLength="39.84" lengthAdjust="spacingAndGlyphs" font-size="10.67">Volume</text>
</g>
<text y="694" font-family='"DejaVu Sans", "Liberation Sans", sans-serif' font-size="24" fill="#000"><tspan x="111.25" textLength="93.86" lengthAdjust="spacingAndGlyphs">Tarkett:</tspan> <tspan x="214.02" textLength="120.10" lengthAdjust="spacingAndGlyphs">graphique</tspan> <tspan x="342.73" textLength="31.02" lengthAdjust="spacingAndGlyphs">du</tspan> <tspan x="381.52" textLength="87.39" lengthAdjust="spacingAndGlyphs">volume</tspan> <tspan x="479.00" textLength="8.67" lengthAdjust="spacingAndGlyphs">-</tspan> <tspan x="497.00" textLength="208.08" lengthAdjust="spacingAndGlyphs">AnalyBourse.com</tspan></text>
<g>
<rect x="101.30" y="880" width="8.40" height="20" fill="#ff3636" fill-opacity="0.8"/>
<rect x="112.24" y="863" width="8.40" height="37" fill="#ff3636" fill-opacity="0.8"/>
<rect x="123.17" y="871" width="8.40" height="29" fill="#ff3636" fill-opacity="0.8"/>
<rect x="134.11" y="870" width="8.40" height="30" fill="#36ff36" fill-opacity="0.8"/>
<rect x="145.05" y="877" width="8.40" height="23" fill="#ff3636" fill-opacity="0.8"/>
<rect x="155.99" y="869" width="8.40" height="31" fill="#ff3636" fill-opacity="0.8"/>
<rect x="166.92" y="878" width="8.40" height="22" fill="#ff3636" fill-opacity="0.8"/>
<rect x="177.86" y="878" width="8.40" height="22" fill="#36ff36" fill-opacity="0.8"/>
<rect x="188.80" y="859" width="8.40" height="41" fill="#ff3636" fill-opacity="0.8"/>
<rect x="199.73" y="883" width="8.40" height="17" fill="#ff3636" fill-opacity="0.8"/>
<rect x="210.67" y="877" width="8.40" height="23" fill="#36ff36" fill-opacity="0.8"/>
<rect x="221.61" y="879" width="8.40" height="21" fill="#36ff36" fill-opacity="0.8"/>
<rect x="232.54" y="882" width="8.40" height="18" fill="#ff3636" fill-opacity="0.8"/>
<rect x="243.48" y="882" width="8.40" height="18" fill="#ff3636" fill-opacity="0.8"/>
<rect x="254.42" y="881" width="8.40" height="19" fill="#ff3636" fill-opacity="0.8"/>
<rect x="265.35" y="881" width="8.40" height="19" fill="#ff3636" fill-opacity="0.8"/>
<rect x="276.29" y="869" width="8.40" height="31" fill="#ff3636" fill-opacity="0.8"/>
<rect x="287.23" y="862" width="8.40" height="38" fill="#ff3636" fill-opacity="0.8"/>
<rect x="298.17" y="871" width="8.40" height="29" fill="#ff3636" fill-opacity="0.8"/>
<rect x="309.10" y="887" width="8.40" height="13" fill="#36ff36" fill-opacity="0.8"/>
<rect x="320.04" y="882" width="8.40" height="18" fill="#ff3636" fill-opacity="0.8"/>
<rect x="330.98" y="866" width="8.40" height="34" fill="#36ff36" fill-opacity="0.8"/>
<rect x="341.91" y="888" width="8.40" height="12" fill="#ff3636" fill-opacity="0.8"/>
<rect x="352.85" y="849" width="8.40" height="51" fill="#36ff36" fill-opacity="0.8"/>
<rect x="363.79" y="881" width="8.40" height="19" fill="#ff3636" fill-opacity="0.8"/>
<rect x="374.73" y="872" width="8.40" height="28" fill="#36ff36" fill-opacity="0.8"/>
<rect x="385.66" y="881" width="8.40" height="19" fill="#ff3636" fill-opacity="0.8"/>
<rect x="396.60" y="879" width="8.40" height="21" fill="#ff3636" fill-opacity="0.8"/>
<rect x="407.54" y="877" width="8.40" height="23" fill="#36ff36" fill-opacity="0.8"/>
<rect x="418.47" y="872" width="8.40" height="28" fill="#36ff36" fill-opacity="0.8"/>
<rect x="429.41" y="881" width="8.40" height="19" fill="#36ff36" fill-opacity="0.8"/>
<rect x="440.35" y="868" width="8.40" height="32" fill="#ff3636" fill-opacity="0.8"/>
<rect x="451.28" y="872" width="8.40" height="28" fill="#ff3636" fill-opacity="0.8"/>
<rect x="462.22" y="868" width="8.40" height="32" fill="#36ff36" fill-opacity="0.8"/>
<rect x="473.16" y="884" width="8.40" height="16" fill="#ff3636" fill-opacity="0.8"/>
<rect x="484.09" y="889" width="8.40" height="11" fill="#36ff36" fill-opacity="0.8"/>
<rect x="495.03" y="889" width="8.40" height="11" fill="#ff3636" fill-opacity="0.8"/>
<rect x="505.97" y="879" width="8.40" height="21" fill="#36ff36" fill-opacity="0.8"/>
<rect x="516.91" y="878" width="8.40" height="22" fill="#36ff36" fill-opacity="0.8"/>
<rect x="527.84" y="867" width="8.40" height="33" fill="#36ff36" fill-opacity="0.8"/>
<rect x="538.78" y="877" width="8.40" height="23" fill="#ff3636" fill-opacity="0.8"/>
<rect x="549.72" y="818" width="8.40" height="82" fill="#ff3636" fill-opacity="0.8"/>
<rect x="560.65" y="799" width="8.40" height="101" fill="#ff3636" fill-opacity="0.8"/>
<rect x="571.59" y="860" width="8.40" height="40" fill="#36ff36" fill-opacity="0.8"/>
<rect x="582.53" y="863" width="8.40" height="37" fill="#ff3636" fill-opacity="0.8"/>
<rect x="593.46" y="870" width="8.40" height="30" fill="#36ff36" fill-opacity="0.8"/>
<rect x="604.40" y="778" width="8.40" height="122" fill="#ff3636" fill-opacity="0.8"/>
<rect x="615.34" y="808" width="8.40" height="92" fill="#ff3636" fill-opacity="0.8"/>
<rect x="626.28" y="854" width="8.40" height="46" fill="#36ff36" fill-opacity="0.8"/>
<rect x="637.21" y="866" width="8.40" height="34" fill="#ff3636" fill-opacity="0.8"/>
<rect x="648.15" y="878" width="8.40" height="22" fill="#36ff36" fill-opacity="0.8"/>
<rect x="659.09" y="875" width="8.40" height="25" fill="#ff3636" fill-opacity="0.8"/>
<rect x="670.02" y="873" width="8.40" height="27" fill="#ff3636" fill-opacity="0.8"/>
<rect x="680.96" y="876" width="8.40" height="24" fill="#ff3636" fill-opacity="0.8"/>
<rect x="691.90" y="869" width="8.40" height="31" fill="#36ff36" fill-opacity="0.8"/>
<rect x="702.83" y="860" width="8.40" height="40" fill="#36ff36" fill-opacity="0.8"/>
<rect x="713.77" y="878" width="8.40" height="22" fill="#ff3636" fill-opacity="0.8"/>
<rect x="724.71" y="875" width="8.40" height="25" fill="#ff3636" fill-opacity="0.8"/>
<rect x="735.65" y="862" width="8.40" height="38" fill="#36ff36" fill-opacity="0.8"/>
<rect x="746.58" y="872" width="8.40" height="28" fill="#ff3636" fill-opacity="0.8"/>
<rect x="757.52" y="856" width="8.40" height="44" fill="#ff3636" fill-opacity="0.8"/>
<rect x="768.46" y="801" width="8.40" height="99" fill="#ff3636" fill-opacity="0.8"/>
<rect x="779.39" y="799" width="8.40" height="101" fill="#36ff36" fill-opacity="0.8"/>
<rect x="790.33" y="863" width="8.40" height="37" fill="#ff3636" fill-opacity="0.8"/>
<rect x="801.27" y="875" width="8.40" height="25" fill="#ff3636" fill-opacity="0.8"/>
<rect x="812.20" y="740" width="8.40" height="160" fill="#36ff36" fill-opacity="0.8"/>
<rect x="823.14" y="816" width="8.40" height="84" fill="#ff3636" fill-opacity="0.8"/>
<rect x="834.08" y="763" width="8.40" height="137" fill="#ff3636" fill-opacity="0.8"/>
<rect x="845.02" y="755" width="8.40" height="145" fill="#36ff36" fill-opacity="0.8"/>
<rect x="855.95" y="810" width="8.40" height="90" fill="#ff3636" fill-opacity="0.8"/>
<rect x="866.89" y="811" width="8.40" height="89" fill="#36ff36" fill-opacity="0.8"/>
<rect x="877.83" y="871" width="8.40" height="29" fill="#36ff36" fill-opacity="0.8"/>
<rect x="888.76" y="873" width="8.40" height="27" fill="#ff3636" fill-opacity="0.8"/>
<rect x="899.70" y="876" width="8.40" height="24" fill="#36ff36" fill-opacity="0.8"/>
<rect x="910.64" y="858" width="8.40" height="42" fill="#ff3636" fill-opacity="0.8"/>
<rect x="921.57" y="866" width="8.40" height="34" fill="#ff3636" fill-opacity="0.8"/>
<rect x="932.51" y="835" width="8.40" height="65" fill="#36ff36" fill-opacity="0.8"/>
<rect x="943.45" y="854" width="8.40" height="46" fill="#ff3636" fill-opacity="0.8"/>
<rect x="954.39" y="866" width="8.40" height="34" fill="#36ff36" fill-opacity="0.8"/>
<rect x="965.32" y="838" width="8.40" height="62" fill="#ff3636" fill-opacity="0.8"/>
<rect x="976.26" y="847" width="8.40" height="53" fill="#36ff36" fill-opacity="0.8"/>
<rect x="987.20" y="864" width="8.40" height="36" fill="#ff3636" fill-opacity="0.8"/>
<rect x="998.13" y="837" width="8.40" height="63" fill="#ff3636" fill-opacity="0.8"/>
<rect x="1009.07" y="797" width="8.40" height="103" fill="#ff3636" fill-opacity="0.8"/>
<rect x="1020.01" y="857" width="8.40" height="43" fill="#36ff36" fill-opacity="0.8"/>
<rect x="1030.94" y="851" width="8.40" height="49" fill="#36ff36" fill-opacity="0.8"/>
<rect x="1041.88" y="823" width="8.40" height="77" fill="#ff3636" fill-opacity="0.8"/>
<rect x="1052.82" y="856" width="8.40" height="44" fill="#ff3636" fill-opacity="0.8"/>
<rect x="1063.76" y="817" width="8.40" height="83" fill="#36ff36" fill-opacity="0.8"/>
<rect x="1074.69" y="848" width="8.40" height="52" fill="#36ff36" fill-opacity="0.8"/>
<rect x="1085.63" y="804" width="8.40" height="96" fill="#36ff36" fill-opacity="0.8"/>
<rect x="1096.57" y="866" width="8.40" height="34" fill="#ff3636" fill-opacity="0.8"/>
<rect x="1107.50" y="858" width="8.40" height="42" fill="#ff3636" fill-opacity="0.8"/>
<rect x="1118.44" y="878" width="8.40" height="22" fill="#ff3636" fill-opacity="0.8"/>
<rect x="1129.38" y="857" width="8.40" height="43" fill="#36ff36" fill-opacity="0.8"/>
<rect x="1140.31" y="845" width="8.40" height="55" fill="#36ff36" fill-opacity="0.8"/>
</g>
<rect x="102" y="1130.00" width="1049" height="35.00" fill="#f9f9f9"/>
<rect x="102" y="1060.00" width="1049" height="35.00" fill="#f9f9f9"/>
<g stroke="#000" stroke-opacity="0.022" stroke-width="1" stroke-dasharray="6 6" shape-rendering="crispEdges">
<line x1="116.5" y1="1025" x2="116.5" y2="1200" stroke-dashoffset="1"/>
<line x1="127.5" y1="1025" x2="127.5" y2="1200" stroke-dashoffset="1"/>
<line x1="138.5" y1="1025" x2="138.5" y2="1200" stroke-dashoffset="1"/>
<line x1="149.5" y1="1025" x2="149.5" y2="1200" stroke-dashoffset="1"/>
<line x1="171.5" y1="1025" x2="171.5" y2="1200" stroke-dashoffset="1"/>
<line x1="182.5" y1="1025" x2="182.5" y2="1200" stroke-dashoffset="1"/>
<line x1="192.5" y1="1025" x2="192.5" y2="1200" stroke-dashoffset="1"/>
<line x1="203.5" y1="1025" x2="203.5" y2="1200" stroke-dashoffset="1"/>
<line x1="225.5" y1="1025" x2="225.5" y2="1200" stroke-dashoffset="1"/>
<line x1="236.5" y1="1025" x2="236.5" y2="1200" stroke-dashoffset="1"/>
<line x1="247.5" y1="1025" x2="247.5" y2="1200" stroke-dashoffset="1"/>
<line x1="258.5" y1="1025" x2="258.5" y2="1200" stroke-dashoffset="1"/>
<line x1="280.5" y1="1025" x2="280.5" y2="1200" stroke-dashoffset="1"/>
<line x1="291.5" y1="1025" x2="291.5" y2="1200" stroke-dashoffset="1"/>
<line x1="302.5" y1="1025" x2="302.5" y2="1200" stroke-dashoffset="1"/>
<line x1="313.5" y1="1025" x2="313.5" y2="1200" stroke-dashoffset="1"/>
<line x1="335.5" y1="1025" x2="335.5" y2="1200" stroke-dashoffset="1"/>
<line x1="346.5" y1="1025" x2="346.5" y2="1200" stroke-dashoffset="1"/>
<line x1="357.5" y1="1025" x2="357.5" y2="1200" stroke-dashoffset="1"/>
<line x1="367.5" y1="1025" x2="367.5" y2="1200" stroke-dashoffset="1"/>
<line x1="389.5" y1="1025" x2="389.5" y2="1200" stroke-dashoffset="1"/>
<line x1="400.5" y1="1025" x2="400.5" y2="1200" stroke-dashoffset="1"/>
<line x1="411.5" y1="1025" x2="411.5" y2="1200" stroke-dashoffset="1"/>
<line x1="422.5" y1="1025" x2="422.5" y2="1200" stroke-dashoffset="1"/>
<line x1="444.5" y1="1025" x2="444.5" y2="1200" stroke-dashoffset="1"/>
<line x1="455.5" y1="1025" x2="455.5" y2="1200" stroke-dashoffset="1"/>
<line x1="466.5" y1="1025" x2="466.5" y2="1200" stroke-dashoffset="1"/>
<line x1="477.5" y1="1025" x2="477.5" y2="1200" stroke-dashoffset="1"/>
<line x1="499.5" y1="1025" x2="499.5" y2="1200" stroke-dashoffset="1"/>
<line x1="510.5" y1="1025" x2="510.5" y2="1200" stroke-dashoffset="1"/>
<line x1="521.5" y1="1025" x2="521.5" y2="1200" stroke-dashoffset="1"/>
<line x1="532.5" y1="1025" x2="532.5" y2="1200" stroke-dashoffset="1"/>
<line x1="553.5" y1="1025" x2="553.5" y2="1200" stroke-dashoffset="1"/>
<line x1="564.5" y1="1025" x2="564.5" y2="1200" stroke-dashoffset="1"/>
<line x1="575.5" y1="1025" x2="575.5" y2="1200" stroke-dashoffset="1"/>
<line x1="586.5" y1="1025" x2="586.5" y2="1200" stroke-dashoffset="1"/>
<line x1="608.5" y1="1025" x2="608.5" y2="1200" stroke-dashoffset="1"/>
<line x1="619.5" y1="1025" x2="619.5" y2="1200" stroke-dashoffset="1"/>
<line x1="630.5" y1="1025" x2="630.5" y2="1200" stroke-dashoffset="1"/>
<line x1="641.5" y1="1025" x2="641.5" y2="1200" stroke-dashoffset="1"/>
<line x1="663.5" y1="1025" x2="663.5" y2="1200" stroke-dashoffset="1"/>
<line x1="674.5" y1="1025" x2="674.5" y2="1200" stroke-dashoffset="1"/>
<line x1="685.5" y1="1025" x2="685.5" y2="1200" stroke-dashoffset="1"/>
<line x1="696.5" y1="1025" x2="696.5" y2="1200" stroke-dashoffset="1"/>
<line x1="717.5" y1="1025" x2="717.5" y2="1200" stroke-dashoffset="1"/>
<line x1="728.5" y1="1025" x2="728.5" y2="1200" stroke-dashoffset="1"/>
<line x1="739.5" y1="1025" x2="739.5" y2="1200" stroke-dashoffset="1"/>
<line x1="750.5" y1="1025" x2="750.5" y2="1200" stroke-dashoffset="1"/>
<line x1="772.5" y1="1025" x2="772.5" y2="1200" stroke-dashoffset="1"/>
<line x1="783.5" y1="1025" x2="783.5" y2="1200" stroke-dashoffset="1"/>
<line x1="794.5" y1="1025" x2="794.5" y2="1200" stroke-dashoffset="1"/>
<line x1="805.5" y1="1025" x2="805.5" y2="1200" stroke-dashoffset="1"/>
<line x1="827.5" y1="1025" x2="827.5" y2="1200" stroke-dashoffset="1"/>
<line x1="838.5" y1="1025" x2="838.5" y2="1200" stroke-dashoffset="1"/>
<line x1="849.5" y1="1025" x2="849.5" y2="1200" stroke-dashoffset="1"/>
<line x1="860.5" y1="1025" x2="860.5" y2="1200" stroke-dashoffset="1"/>
<line x1="882.5" y1="1025" x2="882.5" y2="1200" stroke-dashoffset="1"/>
<line x1="892.5" y1="1025" x2="892.5" y2="1200" stroke-dashoffset="1"/>
<line x1="903.5" y1="1025" x2="903.5" y2="1200" stroke-dashoffset="1"/>
<line x1="914.5" y1="1025" x2="914.5" y2="1200" stroke-dashoffset="1"/>
<line x1="936.5" y1="1025" x2="936.5" y2="1200" stroke-dashoffset="1"/>
<line x1="947.5" y1="1025" x2="947.5" y2="1200" stroke-dashoffset="1"/>
<line x1="958.5" y1="1025" x2="958.5" y2="1200" stroke-dashoffset="1"/>
<line x1="969.5" y1="1025" x2="969.5" y2="1200" stroke-dashoffset="1"/>
<line x1="991.5" y1="1025" x2="991.5" y2="1200" stroke-dashoffset="1"/>
<line x1="1002.5" y1="1025" x2="1002.5" y2="1200" stroke-dashoffset="1"/>
<line x1="1013.5" y1="1025" x2="1013.5" y2="1200" stroke-dashoffset="1"/>
<line x1="1024.5" y1="1025" x2="1024.5" y2="1200" stroke-dashoffset="1"/>
<line x1="1046.5" y1="1025" x2="1046.5" y2="1200" stroke-dashoffset="1"/>
<line x1="1057.5" y1="1025" x2="1057.5" y2="1200" stroke-dashoffset="1"/>
<line x1="1067.5" y1="1025" x2="1067.5" y2="1200" stroke-dashoffset="1"/>
<line x1="1078.5" y1="1025" x2="1078.5" y2="1200" stroke-dashoffset="1"/>
<line x1="1100.5" y1="1025" x2="1100.5" y2="1200" stroke-dashoffset="1"/>
<line x1="1111.5" y1="1025" x2="1111.5" y2="1200" stroke-dashoffset="1"/>
<line x1="1122.5" y1="1025" x2="1122.5" y2="1200" stroke-dashoffset="1"/>
<line x1="1133.5" y1="1025" x2="1133.5" y2="1200" stroke-dashoffset="1"/>
</g>
<g stroke="#000" stroke-opacity="0.066" stroke-width="1" stroke-dasharray="4 4" shape-rendering="crispEdges">
<line x1="105.5" y1="1025" x2="105.5" y2="1200" stroke-dashoffset="1"/>
<line x1="160.5" y1="1025" x2="160.5" y2="1200" stroke-dashoffset="1"/>
<line x1="214.5" y1="1025" x2="214.5" y2="1200" stroke-dashoffset="1"/>
<line x1="269.5" y1="1025" x2="269.5" y2="1200" stroke-dashoffset="1"/>
<line x1="324.5" y1="1025" x2="324.5" y2="1200" stroke-dashoffset="1"/>
<line x1="378.5" y1="1025" x2="378.5" y2="1200" stroke-dashoffset="1"/>
<line x1="433.5" y1="1025" x2="433.5" y2="1200" stroke-dashoffset="1"/>
<line x1="488.5" y1="1025" x2="488.5" y2="1200" stroke-dashoffset="1"/>
<line x1="542.5" y1="1025" x2="542.5" y2="1200" stroke-dashoffset="1"/>
<line x1="597.5" y1="1025" x2="597.5" y2="1200" stroke-dashoffset="1"/>
<line x1="652.5" y1="1025" x2="652.5" y2="1200" stroke-dashoffset="1"/>
<line x1="707.5" y1="1025" x2="707.5" y2="1200" stroke-dashoffset="1"/>
<line x1="761.5" y1="1025" x2="761.5" y2="1200" stroke-dashoffset="1"/>
<line x1="816.5" y1="1025" x2="816.5" y2="1200" stroke-dashoffset="1"/>
<line x1="871.5" y1="1025" x2="871.5" y2="1200" stroke-dashoffset="1"/>
<line x1="925.5" y1="1025" x2="925.5" y2="1200" stroke-dashoffset="1"/>
<line x1="980.5" y1="1025" x2="980.5" y2="1200" stroke-dashoffset="1"/>
<line x1="1035.5" y1="1025" x2="1035.5" y2="1200" stroke-dashoffset="1"/>
<line x1="1089.5" y1="1025" x2="1089.5" y2="1200" stroke-dashoffset="1"/>
<line x1="1144.5" y1="1025" x2="1144.5" y2="1200" stroke-dashoffset="1"/>
</g>
<g stroke="#000" stroke-opacity="0.06" stroke-width="1" stroke-dasharray="4 4" shape-rendering="crispEdges">
<line x1="107" y1="1165.5" x2="1151" y2="1165.5"/>
<line x1="107" y1="1130.5" x2="1151" y2="1130.5"/>
<line x1="107" y1="1095.5" x2="1151" y2="1095.5"/>
<line x1="107" y1="1060.5" x2="1151" y2="1060.5"/>
<line x1="107" y1="1025.5" x2="1151" y2="1025.5"/>
</g>
<line x1="105" y1="1112.5" x2="1145" y2="1112.5" stroke="#666" stroke-width="1" shape-rendering="crispEdges"/>
<path d="M105.50,1109.20 C106.41,1109.96 114.61,1117.08 116.44,1118.30 C118.26,1119.52 125.55,1122.83 127.37,1123.80 C129.20,1124.77 136.49,1129.04 138.31,1130.00 C140.13,1130.96 147.43,1134.74 149.25,1135.30 C151.07,1135.86 158.36,1136.03 160.19,1136.70 C162.01,1137.37 169.30,1143.19 171.12,1143.30 C172.94,1143.41 180.24,1137.67 182.06,1138.00 C183.88,1138.33 191.17,1146.58 193.00,1147.30 C194.82,1148.02 202.11,1147.98 203.93,1146.70 C205.76,1145.42 213.05,1133.37 214.87,1132.00 C216.69,1130.63 223.98,1130.44 225.81,1130.30 C227.63,1130.16 234.92,1130.05 236.74,1130.30 C238.57,1130.55 245.86,1132.80 247.68,1133.30 C249.50,1133.80 256.80,1135.74 258.62,1136.30 C260.44,1136.86 267.73,1139.30 269.55,1140.00 C271.38,1140.70 278.67,1144.12 280.49,1144.70 C282.31,1145.28 289.61,1146.35 291.43,1147.00 C293.25,1147.65 300.54,1153.22 302.37,1152.50 C304.19,1151.78 311.48,1139.59 313.30,1138.30 C315.13,1137.01 322.42,1137.58 324.24,1137.00 C326.06,1136.42 333.35,1131.33 335.18,1131.30 C337.00,1131.27 344.29,1138.45 346.11,1136.70 C347.94,1134.95 355.23,1111.97 357.05,1110.30 C358.87,1108.63 366.17,1116.50 367.99,1116.70 C369.81,1116.90 377.10,1112.32 378.93,1112.70 C380.75,1113.08 388.04,1120.52 389.86,1121.30 C391.68,1122.08 398.98,1122.17 400.80,1122.00 C402.62,1121.83 409.91,1120.62 411.74,1119.20 C413.56,1117.78 420.85,1106.74 422.67,1105.00 C424.50,1103.26 431.79,1098.72 433.61,1098.30 C435.43,1097.88 442.72,1099.75 444.55,1100.00 C446.37,1100.25 453.66,1101.41 455.48,1101.30 C457.31,1101.19 464.60,1098.42 466.42,1098.70 C468.24,1098.98 475.54,1104.63 477.36,1104.70 C479.18,1104.77 486.47,1099.75 488.29,1099.50 C490.12,1099.25 497.41,1102.17 499.23,1101.70 C501.05,1101.23 508.35,1095.19 510.17,1093.80 C511.99,1092.41 519.28,1086.36 521.11,1085.00 C522.93,1083.64 530.22,1078.27 532.04,1077.50 C533.87,1076.73 541.16,1072.47 542.98,1075.80 C544.80,1079.13 552.09,1113.12 553.92,1117.50 C555.74,1121.88 563.03,1127.30 564.85,1128.30 C566.68,1129.30 573.97,1129.25 575.79,1129.50 C577.61,1129.75 584.91,1131.47 586.73,1131.30 C588.55,1131.13 595.84,1126.92 597.66,1127.50 C599.49,1128.08 606.78,1136.88 608.60,1138.30 C610.42,1139.72 617.72,1144.57 619.54,1144.50 C621.36,1144.43 628.65,1137.94 630.48,1137.50 C632.30,1137.06 639.59,1139.13 641.41,1139.20 C643.24,1139.27 650.53,1138.38 652.35,1138.30 C654.17,1138.22 661.46,1138.21 663.29,1138.30 C665.11,1138.39 672.40,1139.23 674.22,1139.40 C676.05,1139.57 683.34,1140.32 685.16,1140.30 C686.98,1140.28 694.28,1139.88 696.10,1139.20 C697.92,1138.53 705.21,1132.53 707.03,1132.20 C708.86,1131.88 716.15,1134.61 717.97,1135.30 C719.79,1135.99 727.09,1140.33 728.91,1140.50 C730.73,1140.67 738.02,1137.37 739.85,1137.30 C741.67,1137.23 748.96,1138.85 750.78,1139.70 C752.61,1140.55 759.90,1146.25 761.72,1147.50 C763.54,1148.75 770.83,1154.53 772.66,1154.70 C774.48,1154.87 781.77,1150.03 783.59,1149.50 C785.42,1148.97 792.71,1147.63 794.53,1148.30 C796.35,1148.97 803.65,1159.75 805.47,1157.50 C807.29,1155.25 814.58,1123.90 816.40,1121.30 C818.23,1118.70 825.52,1124.12 827.34,1126.30 C829.16,1128.48 836.46,1148.17 838.28,1147.50 C840.10,1146.83 847.39,1119.88 849.22,1118.30 C851.04,1116.72 858.33,1127.48 860.15,1128.50 C861.98,1129.52 869.27,1131.00 871.09,1130.50 C872.91,1130.00 880.20,1122.85 882.03,1122.50 C883.85,1122.15 891.14,1126.05 892.96,1126.30 C894.79,1126.55 902.08,1125.33 903.90,1125.50 C905.72,1125.67 913.02,1127.97 914.84,1128.30 C916.66,1128.63 923.95,1130.33 925.77,1129.50 C927.60,1128.67 934.89,1119.16 936.71,1118.30 C938.53,1117.44 945.83,1119.27 947.65,1119.20 C949.47,1119.13 956.76,1117.16 958.59,1117.50 C960.41,1117.84 967.70,1122.98 969.52,1123.30 C971.35,1123.62 978.64,1121.30 980.46,1121.30 C982.28,1121.30 989.57,1122.43 991.40,1123.30 C993.22,1124.17 1000.51,1130.20 1002.33,1131.70 C1004.16,1133.20 1011.45,1141.72 1013.27,1141.30 C1015.09,1140.88 1022.39,1129.03 1024.21,1126.70 C1026.03,1124.37 1033.32,1114.42 1035.14,1113.30 C1036.97,1112.18 1044.26,1112.72 1046.08,1113.30 C1047.90,1113.88 1055.20,1119.88 1057.02,1120.30 C1058.84,1120.72 1066.13,1118.47 1067.96,1118.30 C1069.78,1118.13 1077.07,1118.30 1078.89,1118.30 C1080.72,1118.30 1088.01,1117.91 1089.83,1118.30 C1091.65,1118.69 1098.94,1122.05 1100.77,1123.00 C1102.59,1123.95 1109.88,1128.91 1111.70,1129.70 C1113.53,1130.49 1120.82,1132.43 1122.64,1132.50 C1124.46,1132.57 1131.76,1131.02 1133.58,1130.50 C1135.40,1129.98 1143.60,1126.65 1144.51,1126.30" fill="none" stroke="#ff3030" stroke-width="1" />
<g stroke="#262626" stroke-width="1" shape-rendering="crispEdges">
<line x1="100.5" y1="1019" x2="100.5" y2="1201"/>
<line x1="100" y1="1200.5" x2="1163" y2="1200.5" stroke="#000"/>
<line x1="98" y1="1200.5" x2="103" y2="1200.5"/>
<line x1="98" y1="1165.5" x2="103" y2="1165.5"/>
<line x1="98" y1="1130.5" x2="103" y2="1130.5"/>
<line x1="98" y1="1095.5" x2="103" y2="1095.5"/>
<line x1="98" y1="1060.5" x2="103" y2="1060.5"/>
<line x1="98" y1="1025.5" x2="103" y2="1025.5"/>
<line x1="105.5" y1="1198" x2="105.5" y2="1203" stroke="#000"/>
<line x1="160.5" y1="1198" x2="160.5" y2="1203" stroke="#000"/>
<line x1="214.5" y1="1198" x2="214.5" y2="1203" stroke="#000"/>
<line x1="269.5" y1="1198" x2="269.5" y2="1203" stroke="#000"/>
<line x1="324.5" y1="1198" x2="324.5" y2="1203" stroke="#000"/>
<line x1="378.5" y1="1198" x2="378.5" y2="1203" stroke="#000"/>
<line x1="433.5" y1="1198" x2="433.5" y2="1203" stroke="#000"/>
<line x1="488.5" y1="1198" x2="488.5" y2="1203" stroke="#000"/>
<line x1="542.5" y1="1198" x2="542.5" y2="1203" stroke="#000"/>
<line x1="597.5" y1="1198" x2="597.5" y2="1203" stroke="#000"/>
<line x1="652.5" y1="1198" x2="652.5" y2="1203" stroke="#000"/>
<line x1="707.5" y1="1198" x2="707.5" y2="1203" stroke="#000"/>
<line x1="761.5" y1="1198" x2="761.5" y2="1203" stroke="#000"/>
<line x1="816.5" y1="1198" x2="816.5" y2="1203" stroke="#000"/>
<line x1="871.5" y1="1198" x2="871.5" y2="1203" stroke="#000"/>
<line x1="925.5" y1="1198" x2="925.5" y2="1203" stroke="#000"/>
<line x1="980.5" y1="1198" x2="980.5" y2="1203" stroke="#000"/>
<line x1="1035.5" y1="1198" x2="1035.5" y2="1203" stroke="#000"/>
<line x1="1089.5" y1="1198" x2="1089.5" y2="1203" stroke="#000"/>
<line x1="1144.5" y1="1198" x2="1144.5" y2="1203" stroke="#000"/>
</g>
<g stroke="#f00" stroke-width="1" shape-rendering="crispEdges">
<line x1="98" y1="1182.5" x2="100" y2="1182.5"/>
<line x1="100" y1="1182.5" x2="101" y2="1182.5" stroke-opacity="0.55"/>
<line x1="98" y1="1147.5" x2="100" y2="1147.5"/>
<line x1="100" y1="1147.5" x2="101" y2="1147.5" stroke-opacity="0.55"/>
<line x1="98" y1="1112.5" x2="100" y2="1112.5"/>
<line x1="100" y1="1112.5" x2="101" y2="1112.5" stroke-opacity="0.55"/>
<line x1="98" y1="1077.5" x2="100" y2="1077.5"/>
<line x1="100" y1="1077.5" x2="101" y2="1077.5" stroke-opacity="0.55"/>
<line x1="98" y1="1042.5" x2="100" y2="1042.5"/>
<line x1="100" y1="1042.5" x2="101" y2="1042.5" stroke-opacity="0.55"/>
</g>
<g stroke="#d8d8d8" stroke-width="1" shape-rendering="crispEdges">
<line x1="116.5" y1="1201" x2="116.5" y2="1203"/>
<line x1="127.5" y1="1201" x2="127.5" y2="1203"/>
<line x1="138.5" y1="1201" x2="138.5" y2="1203"/>
<line x1="149.5" y1="1201" x2="149.5" y2="1203"/>
<line x1="171.5" y1="1201" x2="171.5" y2="1203"/>
<line x1="182.5" y1="1201" x2="182.5" y2="1203"/>
<line x1="192.5" y1="1201" x2="192.5" y2="1203"/>
<line x1="203.5" y1="1201" x2="203.5" y2="1203"/>
<line x1="225.5" y1="1201" x2="225.5" y2="1203"/>
<line x1="236.5" y1="1201" x2="236.5" y2="1203"/>
<line x1="247.5" y1="1201" x2="247.5" y2="1203"/>
<line x1="258.5" y1="1201" x2="258.5" y2="1203"/>
<line x1="280.5" y1="1201" x2="280.5" y2="1203"/>
<line x1="291.5" y1="1201" x2="291.5" y2="1203"/>
<line x1="302.5" y1="1201" x2="302.5" y2="1203"/>
<line x1="313.5" y1="1201" x2="313.5" y2="1203"/>
<line x1="335.5" y1="1201" x2="335.5" y2="1203"/>
<line x1="346.5" y1="1201" x2="346.5" y2="1203"/>
<line x1="357.5" y1="1201" x2="357.5" y2="1203"/>
<line x1="367.5" y1="1201" x2="367.5" y2="1203"/>
<line x1="389.5" y1="1201" x2="389.5" y2="1203"/>
<line x1="400.5" y1="1201" x2="400.5" y2="1203"/>
<line x1="411.5" y1="1201" x2="411.5" y2="1203"/>
<line x1="422.5" y1="1201" x2="422.5" y2="1203"/>
<line x1="444.5" y1="1201" x2="444.5" y2="1203"/>
<line x1="455.5" y1="1201" x2="455.5" y2="1203"/>
<line x1="466.5" y1="1201" x2="466.5" y2="1203"/>
<line x1="477.5" y1="1201" x2="477.5" y2="1203"/>
<line x1="499.5" y1="1201" x2="499.5" y2="1203"/>
<line x1="510.5" y1="1201" x2="510.5" y2="1203"/>
<line x1="521.5" y1="1201" x2="521.5" y2="1203"/>
<line x1="532.5" y1="1201" x2="532.5" y2="1203"/>
<line x1="553.5" y1="1201" x2="553.5" y2="1203"/>
<line x1="564.5" y1="1201" x2="564.5" y2="1203"/>
<line x1="575.5" y1="1201" x2="575.5" y2="1203"/>
<line x1="586.5" y1="1201" x2="586.5" y2="1203"/>
<line x1="608.5" y1="1201" x2="608.5" y2="1203"/>
<line x1="619.5" y1="1201" x2="619.5" y2="1203"/>
<line x1="630.5" y1="1201" x2="630.5" y2="1203"/>
<line x1="641.5" y1="1201" x2="641.5" y2="1203"/>
<line x1="663.5" y1="1201" x2="663.5" y2="1203"/>
<line x1="674.5" y1="1201" x2="674.5" y2="1203"/>
<line x1="685.5" y1="1201" x2="685.5" y2="1203"/>
<line x1="696.5" y1="1201" x2="696.5" y2="1203"/>
<line x1="717.5" y1="1201" x2="717.5" y2="1203"/>
<line x1="728.5" y1="1201" x2="728.5" y2="1203"/>
<line x1="739.5" y1="1201" x2="739.5" y2="1203"/>
<line x1="750.5" y1="1201" x2="750.5" y2="1203"/>
<line x1="772.5" y1="1201" x2="772.5" y2="1203"/>
<line x1="783.5" y1="1201" x2="783.5" y2="1203"/>
<line x1="794.5" y1="1201" x2="794.5" y2="1203"/>
<line x1="805.5" y1="1201" x2="805.5" y2="1203"/>
<line x1="827.5" y1="1201" x2="827.5" y2="1203"/>
<line x1="838.5" y1="1201" x2="838.5" y2="1203"/>
<line x1="849.5" y1="1201" x2="849.5" y2="1203"/>
<line x1="860.5" y1="1201" x2="860.5" y2="1203"/>
<line x1="882.5" y1="1201" x2="882.5" y2="1203"/>
<line x1="892.5" y1="1201" x2="892.5" y2="1203"/>
<line x1="903.5" y1="1201" x2="903.5" y2="1203"/>
<line x1="914.5" y1="1201" x2="914.5" y2="1203"/>
<line x1="936.5" y1="1201" x2="936.5" y2="1203"/>
<line x1="947.5" y1="1201" x2="947.5" y2="1203"/>
<line x1="958.5" y1="1201" x2="958.5" y2="1203"/>
<line x1="969.5" y1="1201" x2="969.5" y2="1203"/>
<line x1="991.5" y1="1201" x2="991.5" y2="1203"/>
<line x1="1002.5" y1="1201" x2="1002.5" y2="1203"/>
<line x1="1013.5" y1="1201" x2="1013.5" y2="1203"/>
<line x1="1024.5" y1="1201" x2="1024.5" y2="1203"/>
<line x1="1046.5" y1="1201" x2="1046.5" y2="1203"/>
<line x1="1057.5" y1="1201" x2="1057.5" y2="1203"/>
<line x1="1067.5" y1="1201" x2="1067.5" y2="1203"/>
<line x1="1078.5" y1="1201" x2="1078.5" y2="1203"/>
<line x1="1100.5" y1="1201" x2="1100.5" y2="1203"/>
<line x1="1111.5" y1="1201" x2="1111.5" y2="1203"/>
<line x1="1122.5" y1="1201" x2="1122.5" y2="1203"/>
<line x1="1133.5" y1="1201" x2="1133.5" y2="1203"/>
</g>
<path d="M100.5 1012.5 L104.3 1019.5 L96.7 1019.5 Z" fill="#000"/>
<path d="M1161.8 1200.5 L1155.2 1196.8 L1155.2 1204.2 Z" fill="#000"/>
<g font-family='"DejaVu Sans", "Liberation Sans", sans-serif' font-size="10.7" fill="#000">
<text x="94.5" y="1204.00" text-anchor="end" font-size="10.5">0.00</text>
<text x="94.5" y="1169.00" text-anchor="end" font-size="10.5">20.00</text>
<text x="94.5" y="1134.00" text-anchor="end" font-size="10.5">40.00</text>
<text x="94.5" y="1099.00" text-anchor="end" font-size="10.5">60.00</text>
<text x="94.5" y="1064.00" text-anchor="end" font-size="10.5">80.00</text>
<text x="94.5" y="1029.00" text-anchor="end" font-size="10.5">100.00</text>
<text x="88.51" y="1213" textLength="30.71" lengthAdjust="spacingAndGlyphs" font-size="10.67">6 Nov</text>
<text x="139.74" y="1213" textLength="38.01" lengthAdjust="spacingAndGlyphs" font-size="10.67">14 Nov</text>
<text x="194.49" y="1213" textLength="38.27" lengthAdjust="spacingAndGlyphs" font-size="10.67">21 Nov</text>
<text x="249.49" y="1213" textLength="38.27" lengthAdjust="spacingAndGlyphs" font-size="10.67">28 Nov</text>
<text x="307.74" y="1214" textLength="31.06" lengthAdjust="spacingAndGlyphs" font-size="10.67">5 Déc</text>
<text x="358.99" y="1214" textLength="37.84" lengthAdjust="spacingAndGlyphs" font-size="10.67">12 Déc</text>
<text x="413.48" y="1214" textLength="38.36" lengthAdjust="spacingAndGlyphs" font-size="10.67">19 Déc</text>
<text x="468.48" y="1214" textLength="38.36" lengthAdjust="spacingAndGlyphs" font-size="10.67">28 Déc</text>
<text x="523.16" y="1213" textLength="35.83" lengthAdjust="spacingAndGlyphs" font-size="10.67">5 Janv</text>
<text x="575.18" y="1213" textLength="42.56" lengthAdjust="spacingAndGlyphs" font-size="10.67">12 Janv</text>
<text x="629.43" y="1213" textLength="42.56" lengthAdjust="spacingAndGlyphs" font-size="10.67">19 Janv</text>
<text x="684.43" y="1213" textLength="42.56" lengthAdjust="spacingAndGlyphs" font-size="10.67">26 Janv</text>
<text x="745.96" y="1214" textLength="29.64" lengthAdjust="spacingAndGlyphs" font-size="10.67">2 Fév</text>
<text x="800.70" y="1214" textLength="29.90" lengthAdjust="spacingAndGlyphs" font-size="10.67">9 Fév</text>
<text x="851.49" y="1214" textLength="35.88" lengthAdjust="spacingAndGlyphs" font-size="10.67">16 Fév</text>
<text x="906.47" y="1214" textLength="36.40" lengthAdjust="spacingAndGlyphs" font-size="10.67">23 Fév</text>
<text x="960.74" y="1213" textLength="36.36" lengthAdjust="spacingAndGlyphs" font-size="10.67">2 Mars</text>
<text x="1015.74" y="1213" textLength="36.36" lengthAdjust="spacingAndGlyphs" font-size="10.67">9 Mars</text>
<text x="1066.48" y="1213" textLength="43.39" lengthAdjust="spacingAndGlyphs" font-size="10.67">16 Mars</text>
<text x="1121.48" y="1213" textLength="43.39" lengthAdjust="spacingAndGlyphs" font-size="10.67">23 Mars</text>
<text x="500.48" y="1226" textLength="247.16" lengthAdjust="spacingAndGlyphs" font-size="10.67">Date (du 6 Novembre 2017 au 23 Mars 2018)</text>
<text transform="translate(55.2 1121.1) rotate(-90)" x="-1.23" textLength="21.24" lengthAdjust="spacingAndGlyphs" font-size="10.67">RSI</text>
</g>
<text y="994" font-family='"DejaVu Sans", "Liberation Sans", sans-serif' font-size="24" fill="#000"><tspan x="111.25" textLength="93.86" lengthAdjust="spacingAndGlyphs">Tarkett:</tspan> <tspan x="214.02" textLength="120.10" lengthAdjust="spacingAndGlyphs">graphique</tspan> <tspan x="342.73" textLength="31.02" lengthAdjust="spacingAndGlyphs">du</tspan> <tspan x="380.74" textLength="44.01" lengthAdjust="spacingAndGlyphs">RSI</tspan> <tspan x="433.25" textLength="8.67" lengthAdjust="spacingAndGlyphs">-</tspan> <tspan x="450.30" textLength="97.20" lengthAdjust="spacingAndGlyphs">RSI(14)</tspan> <tspan x="556.00" textLength="8.67" lengthAdjust="spacingAndGlyphs">-</tspan> <tspan x="575.00" textLength="207.83" lengthAdjust="spacingAndGlyphs">AnalyBourse.com</tspan></text>
<rect x="102" y="1430.00" width="1049" height="35.00" fill="#f9f9f9"/>
<rect x="102" y="1360.00" width="1049" height="35.00" fill="#f9f9f9"/>
<g stroke="#000" stroke-opacity="0.022" stroke-width="1" stroke-dasharray="6 6" shape-rendering="crispEdges">
<line x1="116.5" y1="1325" x2="116.5" y2="1500" stroke-dashoffset="1"/>
<line x1="127.5" y1="1325" x2="127.5" y2="1500" stroke-dashoffset="1"/>
<line x1="138.5" y1="1325" x2="138.5" y2="1500" stroke-dashoffset="1"/>
<line x1="149.5" y1="1325" x2="149.5" y2="1500" stroke-dashoffset="1"/>
<line x1="171.5" y1="1325" x2="171.5" y2="1500" stroke-dashoffset="1"/>
<line x1="182.5" y1="1325" x2="182.5" y2="1500" stroke-dashoffset="1"/>
<line x1="192.5" y1="1325" x2="192.5" y2="1500" stroke-dashoffset="1"/>
<line x1="203.5" y1="1325" x2="203.5" y2="1500" stroke-dashoffset="1"/>
<line x1="225.5" y1="1325" x2="225.5" y2="1500" stroke-dashoffset="1"/>
<line x1="236.5" y1="1325" x2="236.5" y2="1500" stroke-dashoffset="1"/>
<line x1="247.5" y1="1325" x2="247.5" y2="1500" stroke-dashoffset="1"/>
<line x1="258.5" y1="1325" x2="258.5" y2="1500" stroke-dashoffset="1"/>
<line x1="280.5" y1="1325" x2="280.5" y2="1500" stroke-dashoffset="1"/>
<line x1="291.5" y1="1325" x2="291.5" y2="1500" stroke-dashoffset="1"/>
<line x1="302.5" y1="1325" x2="302.5" y2="1500" stroke-dashoffset="1"/>
<line x1="313.5" y1="1325" x2="313.5" y2="1500" stroke-dashoffset="1"/>
<line x1="335.5" y1="1325" x2="335.5" y2="1500" stroke-dashoffset="1"/>
<line x1="346.5" y1="1325" x2="346.5" y2="1500" stroke-dashoffset="1"/>
<line x1="357.5" y1="1325" x2="357.5" y2="1500" stroke-dashoffset="1"/>
<line x1="367.5" y1="1325" x2="367.5" y2="1500" stroke-dashoffset="1"/>
<line x1="389.5" y1="1325" x2="389.5" y2="1500" stroke-dashoffset="1"/>
<line x1="400.5" y1="1325" x2="400.5" y2="1500" stroke-dashoffset="1"/>
<line x1="411.5" y1="1325" x2="411.5" y2="1500" stroke-dashoffset="1"/>
<line x1="422.5" y1="1325" x2="422.5" y2="1500" stroke-dashoffset="1"/>
<line x1="444.5" y1="1325" x2="444.5" y2="1500" stroke-dashoffset="1"/>
<line x1="455.5" y1="1325" x2="455.5" y2="1500" stroke-dashoffset="1"/>
<line x1="466.5" y1="1325" x2="466.5" y2="1500" stroke-dashoffset="1"/>
<line x1="477.5" y1="1325" x2="477.5" y2="1500" stroke-dashoffset="1"/>
<line x1="499.5" y1="1325" x2="499.5" y2="1500" stroke-dashoffset="1"/>
<line x1="510.5" y1="1325" x2="510.5" y2="1500" stroke-dashoffset="1"/>
<line x1="521.5" y1="1325" x2="521.5" y2="1500" stroke-dashoffset="1"/>
<line x1="532.5" y1="1325" x2="532.5" y2="1500" stroke-dashoffset="1"/>
<line x1="553.5" y1="1325" x2="553.5" y2="1500" stroke-dashoffset="1"/>
<line x1="564.5" y1="1325" x2="564.5" y2="1500" stroke-dashoffset="1"/>
<line x1="575.5" y1="1325" x2="575.5" y2="1500" stroke-dashoffset="1"/>
<line x1="586.5" y1="1325" x2="586.5" y2="1500" stroke-dashoffset="1"/>
<line x1="608.5" y1="1325" x2="608.5" y2="1500" stroke-dashoffset="1"/>
<line x1="619.5" y1="1325" x2="619.5" y2="1500" stroke-dashoffset="1"/>
<line x1="630.5" y1="1325" x2="630.5" y2="1500" stroke-dashoffset="1"/>
<line x1="641.5" y1="1325" x2="641.5" y2="1500" stroke-dashoffset="1"/>
<line x1="663.5" y1="1325" x2="663.5" y2="1500" stroke-dashoffset="1"/>
<line x1="674.5" y1="1325" x2="674.5" y2="1500" stroke-dashoffset="1"/>
<line x1="685.5" y1="1325" x2="685.5" y2="1500" stroke-dashoffset="1"/>
<line x1="696.5" y1="1325" x2="696.5" y2="1500" stroke-dashoffset="1"/>
<line x1="717.5" y1="1325" x2="717.5" y2="1500" stroke-dashoffset="1"/>
<line x1="728.5" y1="1325" x2="728.5" y2="1500" stroke-dashoffset="1"/>
<line x1="739.5" y1="1325" x2="739.5" y2="1500" stroke-dashoffset="1"/>
<line x1="750.5" y1="1325" x2="750.5" y2="1500" stroke-dashoffset="1"/>
<line x1="772.5" y1="1325" x2="772.5" y2="1500" stroke-dashoffset="1"/>
<line x1="783.5" y1="1325" x2="783.5" y2="1500" stroke-dashoffset="1"/>
<line x1="794.5" y1="1325" x2="794.5" y2="1500" stroke-dashoffset="1"/>
<line x1="805.5" y1="1325" x2="805.5" y2="1500" stroke-dashoffset="1"/>
<line x1="827.5" y1="1325" x2="827.5" y2="1500" stroke-dashoffset="1"/>
<line x1="838.5" y1="1325" x2="838.5" y2="1500" stroke-dashoffset="1"/>
<line x1="849.5" y1="1325" x2="849.5" y2="1500" stroke-dashoffset="1"/>
<line x1="860.5" y1="1325" x2="860.5" y2="1500" stroke-dashoffset="1"/>
<line x1="882.5" y1="1325" x2="882.5" y2="1500" stroke-dashoffset="1"/>
<line x1="892.5" y1="1325" x2="892.5" y2="1500" stroke-dashoffset="1"/>
<line x1="903.5" y1="1325" x2="903.5" y2="1500" stroke-dashoffset="1"/>
<line x1="914.5" y1="1325" x2="914.5" y2="1500" stroke-dashoffset="1"/>
<line x1="936.5" y1="1325" x2="936.5" y2="1500" stroke-dashoffset="1"/>
<line x1="947.5" y1="1325" x2="947.5" y2="1500" stroke-dashoffset="1"/>
<line x1="958.5" y1="1325" x2="958.5" y2="1500" stroke-dashoffset="1"/>
<line x1="969.5" y1="1325" x2="969.5" y2="1500" stroke-dashoffset="1"/>
<line x1="991.5" y1="1325" x2="991.5" y2="1500" stroke-dashoffset="1"/>
<line x1="1002.5" y1="1325" x2="1002.5" y2="1500" stroke-dashoffset="1"/>
<line x1="1013.5" y1="1325" x2="1013.5" y2="1500" stroke-dashoffset="1"/>
<line x1="1024.5" y1="1325" x2="1024.5" y2="1500" stroke-dashoffset="1"/>
<line x1="1046.5" y1="1325" x2="1046.5" y2="1500" stroke-dashoffset="1"/>
<line x1="1057.5" y1="1325" x2="1057.5" y2="1500" stroke-dashoffset="1"/>
<line x1="1067.5" y1="1325" x2="1067.5" y2="1500" stroke-dashoffset="1"/>
<line x1="1078.5" y1="1325" x2="1078.5" y2="1500" stroke-dashoffset="1"/>
<line x1="1100.5" y1="1325" x2="1100.5" y2="1500" stroke-dashoffset="1"/>
<line x1="1111.5" y1="1325" x2="1111.5" y2="1500" stroke-dashoffset="1"/>
<line x1="1122.5" y1="1325" x2="1122.5" y2="1500" stroke-dashoffset="1"/>
<line x1="1133.5" y1="1325" x2="1133.5" y2="1500" stroke-dashoffset="1"/>
</g>
<g stroke="#000" stroke-opacity="0.066" stroke-width="1" stroke-dasharray="4 4" shape-rendering="crispEdges">
<line x1="105.5" y1="1325" x2="105.5" y2="1500" stroke-dashoffset="1"/>
<line x1="160.5" y1="1325" x2="160.5" y2="1500" stroke-dashoffset="1"/>
<line x1="214.5" y1="1325" x2="214.5" y2="1500" stroke-dashoffset="1"/>
<line x1="269.5" y1="1325" x2="269.5" y2="1500" stroke-dashoffset="1"/>
<line x1="324.5" y1="1325" x2="324.5" y2="1500" stroke-dashoffset="1"/>
<line x1="378.5" y1="1325" x2="378.5" y2="1500" stroke-dashoffset="1"/>
<line x1="433.5" y1="1325" x2="433.5" y2="1500" stroke-dashoffset="1"/>
<line x1="488.5" y1="1325" x2="488.5" y2="1500" stroke-dashoffset="1"/>
<line x1="542.5" y1="1325" x2="542.5" y2="1500" stroke-dashoffset="1"/>
<line x1="597.5" y1="1325" x2="597.5" y2="1500" stroke-dashoffset="1"/>
<line x1="652.5" y1="1325" x2="652.5" y2="1500" stroke-dashoffset="1"/>
<line x1="707.5" y1="1325" x2="707.5" y2="1500" stroke-dashoffset="1"/>
<line x1="761.5" y1="1325" x2="761.5" y2="1500" stroke-dashoffset="1"/>
<line x1="816.5" y1="1325" x2="816.5" y2="1500" stroke-dashoffset="1"/>
<line x1="871.5" y1="1325" x2="871.5" y2="1500" stroke-dashoffset="1"/>
<line x1="925.5" y1="1325" x2="925.5" y2="1500" stroke-dashoffset="1"/>
<line x1="980.5" y1="1325" x2="980.5" y2="1500" stroke-dashoffset="1"/>
<line x1="1035.5" y1="1325" x2="1035.5" y2="1500" stroke-dashoffset="1"/>
<line x1="1089.5" y1="1325" x2="1089.5" y2="1500" stroke-dashoffset="1"/>
<line x1="1144.5" y1="1325" x2="1144.5" y2="1500" stroke-dashoffset="1"/>
</g>
<g stroke="#000" stroke-opacity="0.06" stroke-width="1" stroke-dasharray="4 4" shape-rendering="crispEdges">
<line x1="107" y1="1465.5" x2="1151" y2="1465.5"/>
<line x1="107" y1="1430.5" x2="1151" y2="1430.5"/>
<line x1="107" y1="1395.5" x2="1151" y2="1395.5"/>
<line x1="107" y1="1360.5" x2="1151" y2="1360.5"/>
<line x1="107" y1="1325.5" x2="1151" y2="1325.5"/>
</g>
<clipPath id="ab"><rect x="100" y="1320" width="1060" height="75.5"/></clipPath>
<clipPath id="be"><rect x="100" y="1395.5" width="1060" height="104.5"/></clipPath>
<path d="M105.50,1395.5 L105.50,1388.70 C106.59,1389.36 114.25,1393.84 116.44,1395.30 C118.62,1396.76 125.19,1401.38 127.37,1403.30 C129.56,1405.22 136.12,1412.36 138.31,1414.50 C140.50,1416.64 147.06,1422.90 149.25,1424.70 C151.44,1426.50 158.00,1430.89 160.19,1432.50 C162.37,1434.11 168.93,1439.88 171.12,1440.80 C173.31,1441.72 179.87,1440.95 182.06,1441.70 C184.25,1442.45 190.81,1447.50 193.00,1448.30 C195.18,1449.10 201.75,1450.61 203.93,1449.70 C206.12,1448.79 212.68,1441.34 214.87,1439.20 C217.06,1437.06 223.62,1430.39 225.81,1428.30 C227.99,1426.21 234.56,1419.85 236.74,1418.30 C238.93,1416.75 245.49,1413.60 247.68,1412.80 C249.87,1412.00 256.43,1410.61 258.62,1410.30 C260.81,1409.99 267.37,1409.56 269.55,1409.70 C271.74,1409.84 278.30,1411.20 280.49,1411.70 C282.68,1412.20 289.24,1413.90 291.43,1414.70 C293.62,1415.50 300.18,1419.70 302.37,1419.70 C304.55,1419.70 311.12,1415.92 313.30,1414.70 C315.49,1413.48 322.05,1409.05 324.24,1407.50 C326.43,1405.95 332.99,1400.32 335.18,1399.20 C337.36,1398.08 343.93,1398.47 346.11,1396.30 C348.30,1394.13 354.86,1380.13 357.05,1377.50 C359.24,1374.87 365.80,1371.45 367.99,1370.00 C370.18,1368.55 376.74,1363.42 378.93,1363.00 C381.11,1362.58 387.67,1365.22 389.86,1365.80 C392.05,1366.38 398.61,1368.55 400.80,1368.80 C402.99,1369.05 409.55,1369.23 411.74,1368.30 C413.92,1367.37 420.49,1361.30 422.67,1359.50 C424.86,1357.70 431.42,1351.55 433.61,1350.30 C435.80,1349.05 442.36,1347.33 444.55,1347.00 C446.73,1346.67 453.30,1346.95 455.48,1347.00 C457.67,1347.05 464.23,1346.88 466.42,1347.50 C468.61,1348.12 475.17,1352.45 477.36,1353.20 C479.55,1353.95 486.11,1354.40 488.29,1355.00 C490.48,1355.60 497.04,1359.03 499.23,1359.20 C501.42,1359.37 507.98,1357.70 510.17,1356.70 C512.36,1355.70 518.92,1350.70 521.11,1349.20 C523.29,1347.70 529.86,1342.70 532.04,1341.70 C534.23,1340.70 540.79,1336.79 542.98,1339.20 C545.17,1341.61 551.73,1359.97 553.92,1365.80 C556.10,1371.63 562.67,1392.08 564.85,1397.50 C567.04,1402.92 573.60,1416.42 575.79,1420.00 C577.98,1423.58 584.54,1431.38 586.73,1433.30 C588.92,1435.22 595.48,1437.36 597.66,1439.20 C599.85,1441.04 606.41,1449.09 608.60,1451.70 C610.79,1454.31 617.35,1463.89 619.54,1465.30 C621.73,1466.71 628.29,1465.96 630.48,1465.80 C632.66,1465.64 639.23,1464.45 641.41,1463.70 C643.60,1462.95 650.16,1459.50 652.35,1458.30 C654.54,1457.10 661.10,1453.03 663.29,1451.70 C665.47,1450.37 672.04,1446.42 674.22,1445.00 C676.41,1443.58 682.97,1439.08 685.16,1437.50 C687.35,1435.92 693.91,1431.12 696.10,1429.20 C698.29,1427.28 704.85,1420.02 707.03,1418.30 C709.22,1416.58 715.78,1412.78 717.97,1412.00 C720.16,1411.22 726.72,1411.12 728.91,1410.50 C731.10,1409.88 737.66,1406.47 739.85,1405.80 C742.03,1405.13 748.60,1403.55 750.78,1403.80 C752.97,1404.05 759.53,1407.05 761.72,1408.30 C763.91,1409.55 770.47,1415.46 772.66,1416.30 C774.84,1417.14 781.41,1416.80 783.59,1416.70 C785.78,1416.60 792.34,1414.80 794.53,1415.30 C796.72,1415.80 803.28,1422.98 805.47,1421.70 C807.66,1420.42 814.22,1405.22 816.40,1402.50 C818.59,1399.78 825.15,1393.38 827.34,1394.50 C829.53,1395.62 836.09,1413.32 838.28,1413.70 C840.47,1414.08 847.03,1399.54 849.22,1398.30 C851.40,1397.06 857.97,1400.80 860.15,1401.30 C862.34,1401.80 868.90,1403.90 871.09,1403.30 C873.28,1402.70 879.84,1396.26 882.03,1395.30 C884.21,1394.34 890.78,1394.15 892.96,1393.70 C895.15,1393.25 901.71,1390.87 903.90,1390.80 C906.09,1390.73 912.65,1392.61 914.84,1393.00 C917.03,1393.39 923.59,1395.83 925.77,1394.70 C927.96,1393.57 934.52,1383.75 936.71,1381.70 C938.90,1379.65 945.46,1375.45 947.65,1374.20 C949.84,1372.95 956.40,1369.54 958.59,1369.20 C960.77,1368.86 967.34,1370.60 969.52,1370.80 C971.71,1371.00 978.27,1370.86 980.46,1371.20 C982.65,1371.54 989.21,1372.84 991.40,1374.20 C993.58,1375.56 1000.15,1381.77 1002.33,1384.80 C1004.52,1387.83 1011.08,1402.81 1013.27,1404.50 C1015.46,1406.19 1022.02,1403.62 1024.21,1401.70 C1026.40,1399.78 1032.96,1387.89 1035.14,1385.30 C1037.33,1382.71 1043.89,1376.63 1046.08,1375.80 C1048.27,1374.97 1054.83,1377.00 1057.02,1377.00 C1059.21,1377.00 1065.77,1376.00 1067.96,1375.80 C1070.14,1375.60 1076.71,1375.11 1078.89,1375.00 C1081.08,1374.89 1087.64,1374.28 1089.83,1374.70 C1092.02,1375.12 1098.58,1377.75 1100.77,1379.20 C1102.95,1380.65 1109.52,1387.42 1111.70,1389.20 C1113.89,1390.98 1120.45,1395.84 1122.64,1397.00 C1124.83,1398.16 1131.39,1400.50 1133.58,1400.80 C1135.77,1401.10 1143.42,1400.08 1144.51,1400.00 L1144.51,1395.5 Z" fill="#f87373" fill-opacity="0.75" clip-path="url(#be)"/>
<path d="M105.50,1395.5 L105.50,1388.70 C106.59,1389.36 114.25,1393.84 116.44,1395.30 C118.62,1396.76 125.19,1401.38 127.37,1403.30 C129.56,1405.22 136.12,1412.36 138.31,1414.50 C140.50,1416.64 147.06,1422.90 149.25,1424.70 C151.44,1426.50 158.00,1430.89 160.19,1432.50 C162.37,1434.11 168.93,1439.88 171.12,1440.80 C173.31,1441.72 179.87,1440.95 182.06,1441.70 C184.25,1442.45 190.81,1447.50 193.00,1448.30 C195.18,1449.10 201.75,1450.61 203.93,1449.70 C206.12,1448.79 212.68,1441.34 214.87,1439.20 C217.06,1437.06 223.62,1430.39 225.81,1428.30 C227.99,1426.21 234.56,1419.85 236.74,1418.30 C238.93,1416.75 245.49,1413.60 247.68,1412.80 C249.87,1412.00 256.43,1410.61 258.62,1410.30 C260.81,1409.99 267.37,1409.56 269.55,1409.70 C271.74,1409.84 278.30,1411.20 280.49,1411.70 C282.68,1412.20 289.24,1413.90 291.43,1414.70 C293.62,1415.50 300.18,1419.70 302.37,1419.70 C304.55,1419.70 311.12,1415.92 313.30,1414.70 C315.49,1413.48 322.05,1409.05 324.24,1407.50 C326.43,1405.95 332.99,1400.32 335.18,1399.20 C337.36,1398.08 343.93,1398.47 346.11,1396.30 C348.30,1394.13 354.86,1380.13 357.05,1377.50 C359.24,1374.87 365.80,1371.45 367.99,1370.00 C370.18,1368.55 376.74,1363.42 378.93,1363.00 C381.11,1362.58 387.67,1365.22 389.86,1365.80 C392.05,1366.38 398.61,1368.55 400.80,1368.80 C402.99,1369.05 409.55,1369.23 411.74,1368.30 C413.92,1367.37 420.49,1361.30 422.67,1359.50 C424.86,1357.70 431.42,1351.55 433.61,1350.30 C435.80,1349.05 442.36,1347.33 444.55,1347.00 C446.73,1346.67 453.30,1346.95 455.48,1347.00 C457.67,1347.05 464.23,1346.88 466.42,1347.50 C468.61,1348.12 475.17,1352.45 477.36,1353.20 C479.55,1353.95 486.11,1354.40 488.29,1355.00 C490.48,1355.60 497.04,1359.03 499.23,1359.20 C501.42,1359.37 507.98,1357.70 510.17,1356.70 C512.36,1355.70 518.92,1350.70 521.11,1349.20 C523.29,1347.70 529.86,1342.70 532.04,1341.70 C534.23,1340.70 540.79,1336.79 542.98,1339.20 C545.17,1341.61 551.73,1359.97 553.92,1365.80 C556.10,1371.63 562.67,1392.08 564.85,1397.50 C567.04,1402.92 573.60,1416.42 575.79,1420.00 C577.98,1423.58 584.54,1431.38 586.73,1433.30 C588.92,1435.22 595.48,1437.36 597.66,1439.20 C599.85,1441.04 606.41,1449.09 608.60,1451.70 C610.79,1454.31 617.35,1463.89 619.54,1465.30 C621.73,1466.71 628.29,1465.96 630.48,1465.80 C632.66,1465.64 639.23,1464.45 641.41,1463.70 C643.60,1462.95 650.16,1459.50 652.35,1458.30 C654.54,1457.10 661.10,1453.03 663.29,1451.70 C665.47,1450.37 672.04,1446.42 674.22,1445.00 C676.41,1443.58 682.97,1439.08 685.16,1437.50 C687.35,1435.92 693.91,1431.12 696.10,1429.20 C698.29,1427.28 704.85,1420.02 707.03,1418.30 C709.22,1416.58 715.78,1412.78 717.97,1412.00 C720.16,1411.22 726.72,1411.12 728.91,1410.50 C731.10,1409.88 737.66,1406.47 739.85,1405.80 C742.03,1405.13 748.60,1403.55 750.78,1403.80 C752.97,1404.05 759.53,1407.05 761.72,1408.30 C763.91,1409.55 770.47,1415.46 772.66,1416.30 C774.84,1417.14 781.41,1416.80 783.59,1416.70 C785.78,1416.60 792.34,1414.80 794.53,1415.30 C796.72,1415.80 803.28,1422.98 805.47,1421.70 C807.66,1420.42 814.22,1405.22 816.40,1402.50 C818.59,1399.78 825.15,1393.38 827.34,1394.50 C829.53,1395.62 836.09,1413.32 838.28,1413.70 C840.47,1414.08 847.03,1399.54 849.22,1398.30 C851.40,1397.06 857.97,1400.80 860.15,1401.30 C862.34,1401.80 868.90,1403.90 871.09,1403.30 C873.28,1402.70 879.84,1396.26 882.03,1395.30 C884.21,1394.34 890.78,1394.15 892.96,1393.70 C895.15,1393.25 901.71,1390.87 903.90,1390.80 C906.09,1390.73 912.65,1392.61 914.84,1393.00 C917.03,1393.39 923.59,1395.83 925.77,1394.70 C927.96,1393.57 934.52,1383.75 936.71,1381.70 C938.90,1379.65 945.46,1375.45 947.65,1374.20 C949.84,1372.95 956.40,1369.54 958.59,1369.20 C960.77,1368.86 967.34,1370.60 969.52,1370.80 C971.71,1371.00 978.27,1370.86 980.46,1371.20 C982.65,1371.54 989.21,1372.84 991.40,1374.20 C993.58,1375.56 1000.15,1381.77 1002.33,1384.80 C1004.52,1387.83 1011.08,1402.81 1013.27,1404.50 C1015.46,1406.19 1022.02,1403.62 1024.21,1401.70 C1026.40,1399.78 1032.96,1387.89 1035.14,1385.30 C1037.33,1382.71 1043.89,1376.63 1046.08,1375.80 C1048.27,1374.97 1054.83,1377.00 1057.02,1377.00 C1059.21,1377.00 1065.77,1376.00 1067.96,1375.80 C1070.14,1375.60 1076.71,1375.11 1078.89,1375.00 C1081.08,1374.89 1087.64,1374.28 1089.83,1374.70 C1092.02,1375.12 1098.58,1377.75 1100.77,1379.20 C1102.95,1380.65 1109.52,1387.42 1111.70,1389.20 C1113.89,1390.98 1120.45,1395.84 1122.64,1397.00 C1124.83,1398.16 1131.39,1400.50 1133.58,1400.80 C1135.77,1401.10 1143.42,1400.08 1144.51,1400.00 L1144.51,1395.5 Z" fill="#73f873" fill-opacity="0.75" clip-path="url(#ab)"/>
<line x1="105" y1="1395.0" x2="1145" y2="1395.0" stroke="#82f582" stroke-width="1" shape-rendering="crispEdges"/>
<g stroke="#262626" stroke-width="1" shape-rendering="crispEdges">
<line x1="100.5" y1="1319" x2="100.5" y2="1501"/>
<line x1="100" y1="1500.5" x2="1163" y2="1500.5" stroke="#000"/>
<line x1="98" y1="1500.5" x2="103" y2="1500.5"/>
<line x1="98" y1="1465.5" x2="103" y2="1465.5"/>
<line x1="98" y1="1430.5" x2="103" y2="1430.5"/>
<line x1="98" y1="1395.5" x2="103" y2="1395.5"/>
<line x1="98" y1="1360.5" x2="103" y2="1360.5"/>
<line x1="98" y1="1325.5" x2="103" y2="1325.5"/>
<line x1="105.5" y1="1498" x2="105.5" y2="1503" stroke="#000"/>
<line x1="160.5" y1="1498" x2="160.5" y2="1503" stroke="#000"/>
<line x1="214.5" y1="1498" x2="214.5" y2="1503" stroke="#000"/>
<line x1="269.5" y1="1498" x2="269.5" y2="1503" stroke="#000"/>
<line x1="324.5" y1="1498" x2="324.5" y2="1503" stroke="#000"/>
<line x1="378.5" y1="1498" x2="378.5" y2="1503" stroke="#000"/>
<line x1="433.5" y1="1498" x2="433.5" y2="1503" stroke="#000"/>
<line x1="488.5" y1="1498" x2="488.5" y2="1503" stroke="#000"/>
<line x1="542.5" y1="1498" x2="542.5" y2="1503" stroke="#000"/>
<line x1="597.5" y1="1498" x2="597.5" y2="1503" stroke="#000"/>
<line x1="652.5" y1="1498" x2="652.5" y2="1503" stroke="#000"/>
<line x1="707.5" y1="1498" x2="707.5" y2="1503" stroke="#000"/>
<line x1="761.5" y1="1498" x2="761.5" y2="1503" stroke="#000"/>
<line x1="816.5" y1="1498" x2="816.5" y2="1503" stroke="#000"/>
<line x1="871.5" y1="1498" x2="871.5" y2="1503" stroke="#000"/>
<line x1="925.5" y1="1498" x2="925.5" y2="1503" stroke="#000"/>
<line x1="980.5" y1="1498" x2="980.5" y2="1503" stroke="#000"/>
<line x1="1035.5" y1="1498" x2="1035.5" y2="1503" stroke="#000"/>
<line x1="1089.5" y1="1498" x2="1089.5" y2="1503" stroke="#000"/>
<line x1="1144.5" y1="1498" x2="1144.5" y2="1503" stroke="#000"/>
</g>
<g stroke="#f00" stroke-width="1" shape-rendering="crispEdges">
<line x1="98" y1="1482.5" x2="100" y2="1482.5"/>
<line x1="100" y1="1482.5" x2="101" y2="1482.5" stroke-opacity="0.55"/>
<line x1="98" y1="1447.5" x2="100" y2="1447.5"/>
<line x1="100" y1="1447.5" x2="101" y2="1447.5" stroke-opacity="0.55"/>
<line x1="98" y1="1412.5" x2="100" y2="1412.5"/>
<line x1="100" y1="1412.5" x2="101" y2="1412.5" stroke-opacity="0.55"/>
<line x1="98" y1="1377.5" x2="100" y2="1377.5"/>
<line x1="100" y1="1377.5" x2="101" y2="1377.5" stroke-opacity="0.55"/>
<line x1="98" y1="1342.5" x2="100" y2="1342.5"/>
<line x1="100" y1="1342.5" x2="101" y2="1342.5" stroke-opacity="0.55"/>
</g>
<g stroke="#d8d8d8" stroke-width="1" shape-rendering="crispEdges">
<line x1="116.5" y1="1501" x2="116.5" y2="1503"/>
<line x1="127.5" y1="1501" x2="127.5" y2="1503"/>
<line x1="138.5" y1="1501" x2="138.5" y2="1503"/>
<line x1="149.5" y1="1501" x2="149.5" y2="1503"/>
<line x1="171.5" y1="1501" x2="171.5" y2="1503"/>
<line x1="182.5" y1="1501" x2="182.5" y2="1503"/>
<line x1="192.5" y1="1501" x2="192.5" y2="1503"/>
<line x1="203.5" y1="1501" x2="203.5" y2="1503"/>
<line x1="225.5" y1="1501" x2="225.5" y2="1503"/>
<line x1="236.5" y1="1501" x2="236.5" y2="1503"/>
<line x1="247.5" y1="1501" x2="247.5" y2="1503"/>
<line x1="258.5" y1="1501" x2="258.5" y2="1503"/>
<line x1="280.5" y1="1501" x2="280.5" y2="1503"/>
<line x1="291.5" y1="1501" x2="291.5" y2="1503"/>
<line x1="302.5" y1="1501" x2="302.5" y2="1503"/>
<line x1="313.5" y1="1501" x2="313.5" y2="1503"/>
<line x1="335.5" y1="1501" x2="335.5" y2="1503"/>
<line x1="346.5" y1="1501" x2="346.5" y2="1503"/>
<line x1="357.5" y1="1501" x2="357.5" y2="1503"/>
<line x1="367.5" y1="1501" x2="367.5" y2="1503"/>
<line x1="389.5" y1="1501" x2="389.5" y2="1503"/>
<line x1="400.5" y1="1501" x2="400.5" y2="1503"/>
<line x1="411.5" y1="1501" x2="411.5" y2="1503"/>
<line x1="422.5" y1="1501" x2="422.5" y2="1503"/>
<line x1="444.5" y1="1501" x2="444.5" y2="1503"/>
<line x1="455.5" y1="1501" x2="455.5" y2="1503"/>
<line x1="466.5" y1="1501" x2="466.5" y2="1503"/>
<line x1="477.5" y1="1501" x2="477.5" y2="1503"/>
<line x1="499.5" y1="1501" x2="499.5" y2="1503"/>
<line x1="510.5" y1="1501" x2="510.5" y2="1503"/>
<line x1="521.5" y1="1501" x2="521.5" y2="1503"/>
<line x1="532.5" y1="1501" x2="532.5" y2="1503"/>
<line x1="553.5" y1="1501" x2="553.5" y2="1503"/>
<line x1="564.5" y1="1501" x2="564.5" y2="1503"/>
<line x1="575.5" y1="1501" x2="575.5" y2="1503"/>
<line x1="586.5" y1="1501" x2="586.5" y2="1503"/>
<line x1="608.5" y1="1501" x2="608.5" y2="1503"/>
<line x1="619.5" y1="1501" x2="619.5" y2="1503"/>
<line x1="630.5" y1="1501" x2="630.5" y2="1503"/>
<line x1="641.5" y1="1501" x2="641.5" y2="1503"/>
<line x1="663.5" y1="1501" x2="663.5" y2="1503"/>
<line x1="674.5" y1="1501" x2="674.5" y2="1503"/>
<line x1="685.5" y1="1501" x2="685.5" y2="1503"/>
<line x1="696.5" y1="1501" x2="696.5" y2="1503"/>
<line x1="717.5" y1="1501" x2="717.5" y2="1503"/>
<line x1="728.5" y1="1501" x2="728.5" y2="1503"/>
<line x1="739.5" y1="1501" x2="739.5" y2="1503"/>
<line x1="750.5" y1="1501" x2="750.5" y2="1503"/>
<line x1="772.5" y1="1501" x2="772.5" y2="1503"/>
<line x1="783.5" y1="1501" x2="783.5" y2="1503"/>
<line x1="794.5" y1="1501" x2="794.5" y2="1503"/>
<line x1="805.5" y1="1501" x2="805.5" y2="1503"/>
<line x1="827.5" y1="1501" x2="827.5" y2="1503"/>
<line x1="838.5" y1="1501" x2="838.5" y2="1503"/>
<line x1="849.5" y1="1501" x2="849.5" y2="1503"/>
<line x1="860.5" y1="1501" x2="860.5" y2="1503"/>
<line x1="882.5" y1="1501" x2="882.5" y2="1503"/>
<line x1="892.5" y1="1501" x2="892.5" y2="1503"/>
<line x1="903.5" y1="1501" x2="903.5" y2="1503"/>
<line x1="914.5" y1="1501" x2="914.5" y2="1503"/>
<line x1="936.5" y1="1501" x2="936.5" y2="1503"/>
<line x1="947.5" y1="1501" x2="947.5" y2="1503"/>
<line x1="958.5" y1="1501" x2="958.5" y2="1503"/>
<line x1="969.5" y1="1501" x2="969.5" y2="1503"/>
<line x1="991.5" y1="1501" x2="991.5" y2="1503"/>
<line x1="1002.5" y1="1501" x2="1002.5" y2="1503"/>
<line x1="1013.5" y1="1501" x2="1013.5" y2="1503"/>
<line x1="1024.5" y1="1501" x2="1024.5" y2="1503"/>
<line x1="1046.5" y1="1501" x2="1046.5" y2="1503"/>
<line x1="1057.5" y1="1501" x2="1057.5" y2="1503"/>
<line x1="1067.5" y1="1501" x2="1067.5" y2="1503"/>
<line x1="1078.5" y1="1501" x2="1078.5" y2="1503"/>
<line x1="1100.5" y1="1501" x2="1100.5" y2="1503"/>
<line x1="1111.5" y1="1501" x2="1111.5" y2="1503"/>
<line x1="1122.5" y1="1501" x2="1122.5" y2="1503"/>
<line x1="1133.5" y1="1501" x2="1133.5" y2="1503"/>
</g>
<path d="M100.5 1312.5 L104.3 1319.5 L96.7 1319.5 Z" fill="#000"/>
<path d="M1161.8 1500.5 L1155.2 1496.8 L1155.2 1504.2 Z" fill="#000"/>
<g font-family='"DejaVu Sans", "Liberation Sans", sans-serif' font-size="10.7" fill="#000">
<text x="94.5" y="1504.00" text-anchor="end" font-size="10.5">-0.60</text>
<text x="94.5" y="1469.00" text-anchor="end" font-size="10.5">-0.40</text>
<text x="94.5" y="1434.00" text-anchor="end" font-size="10.5">-0.20</text>
<text x="94.5" y="1399.00" text-anchor="end" font-size="10.5">0.00</text>
<text x="94.5" y="1364.00" text-anchor="end" font-size="10.5">0.20</text>
<text x="94.5" y="1329.00" text-anchor="end" font-size="10.5">0.40</text>
<text x="88.51" y="1513" textLength="30.71" lengthAdjust="spacingAndGlyphs" font-size="10.67">6 Nov</text>
<text x="139.74" y="1513" textLength="38.01" lengthAdjust="spacingAndGlyphs" font-size="10.67">14 Nov</text>
<text x="194.49" y="1513" textLength="38.27" lengthAdjust="spacingAndGlyphs" font-size="10.67">21 Nov</text>
<text x="249.49" y="1513" textLength="38.27" lengthAdjust="spacingAndGlyphs" font-size="10.67">28 Nov</text>
<text x="307.74" y="1514" textLength="31.06" lengthAdjust="spacingAndGlyphs" font-size="10.67">5 Déc</text>
<text x="358.99" y="1514" textLength="37.84" lengthAdjust="spacingAndGlyphs" font-size="10.67">12 Déc</text>
<text x="413.48" y="1514" textLength="38.36" lengthAdjust="spacingAndGlyphs" font-size="10.67">19 Déc</text>
<text x="468.48" y="1514" textLength="38.36" lengthAdjust="spacingAndGlyphs" font-size="10.67">28 Déc</text>
<text x="523.16" y="1513" textLength="35.83" lengthAdjust="spacingAndGlyphs" font-size="10.67">5 Janv</text>
<text x="575.18" y="1513" textLength="42.56" lengthAdjust="spacingAndGlyphs" font-size="10.67">12 Janv</text>
<text x="629.43" y="1513" textLength="42.56" lengthAdjust="spacingAndGlyphs" font-size="10.67">19 Janv</text>
<text x="684.43" y="1513" textLength="42.56" lengthAdjust="spacingAndGlyphs" font-size="10.67">26 Janv</text>
<text x="745.96" y="1514" textLength="29.64" lengthAdjust="spacingAndGlyphs" font-size="10.67">2 Fév</text>
<text x="800.70" y="1514" textLength="29.90" lengthAdjust="spacingAndGlyphs" font-size="10.67">9 Fév</text>
<text x="851.49" y="1514" textLength="35.88" lengthAdjust="spacingAndGlyphs" font-size="10.67">16 Fév</text>
<text x="906.47" y="1514" textLength="36.40" lengthAdjust="spacingAndGlyphs" font-size="10.67">23 Fév</text>
<text x="960.74" y="1513" textLength="36.36" lengthAdjust="spacingAndGlyphs" font-size="10.67">2 Mars</text>
<text x="1015.74" y="1513" textLength="36.36" lengthAdjust="spacingAndGlyphs" font-size="10.67">9 Mars</text>
<text x="1066.48" y="1513" textLength="43.39" lengthAdjust="spacingAndGlyphs" font-size="10.67">16 Mars</text>
<text x="1121.48" y="1513" textLength="43.39" lengthAdjust="spacingAndGlyphs" font-size="10.67">23 Mars</text>
<text x="500.48" y="1526" textLength="247.16" lengthAdjust="spacingAndGlyphs" font-size="10.67">Date (du 6 Novembre 2017 au 23 Mars 2018)</text>
<text transform="translate(63.1 1428) rotate(-90)" x="-1.04" textLength="33.34" lengthAdjust="spacingAndGlyphs" font-size="10.67">MACD</text>
</g>
<text y="1294" font-family='"DejaVu Sans", "Liberation Sans", sans-serif' font-size="24" fill="#000"><tspan x="111.25" textLength="93.86" lengthAdjust="spacingAndGlyphs">Tarkett:</tspan> <tspan x="214.02" textLength="120.10" lengthAdjust="spacingAndGlyphs">graphique</tspan> <tspan x="342.73" textLength="31.02" lengthAdjust="spacingAndGlyphs">du</tspan> <tspan x="381.00" textLength="71.95" lengthAdjust="spacingAndGlyphs">MACD</tspan> <tspan x="462.00" textLength="8.67" lengthAdjust="spacingAndGlyphs">-</tspan> <tspan x="479.16" textLength="190.73" lengthAdjust="spacingAndGlyphs">MACD(12,26,9)</tspan> <tspan x="677.00" textLength="8.67" lengthAdjust="spacingAndGlyphs">-</tspan> <tspan x="695.50" textLength="208.59" lengthAdjust="spacingAndGlyphs">AnalyBourse.com</tspan></text>
</svg>
</body></html>
